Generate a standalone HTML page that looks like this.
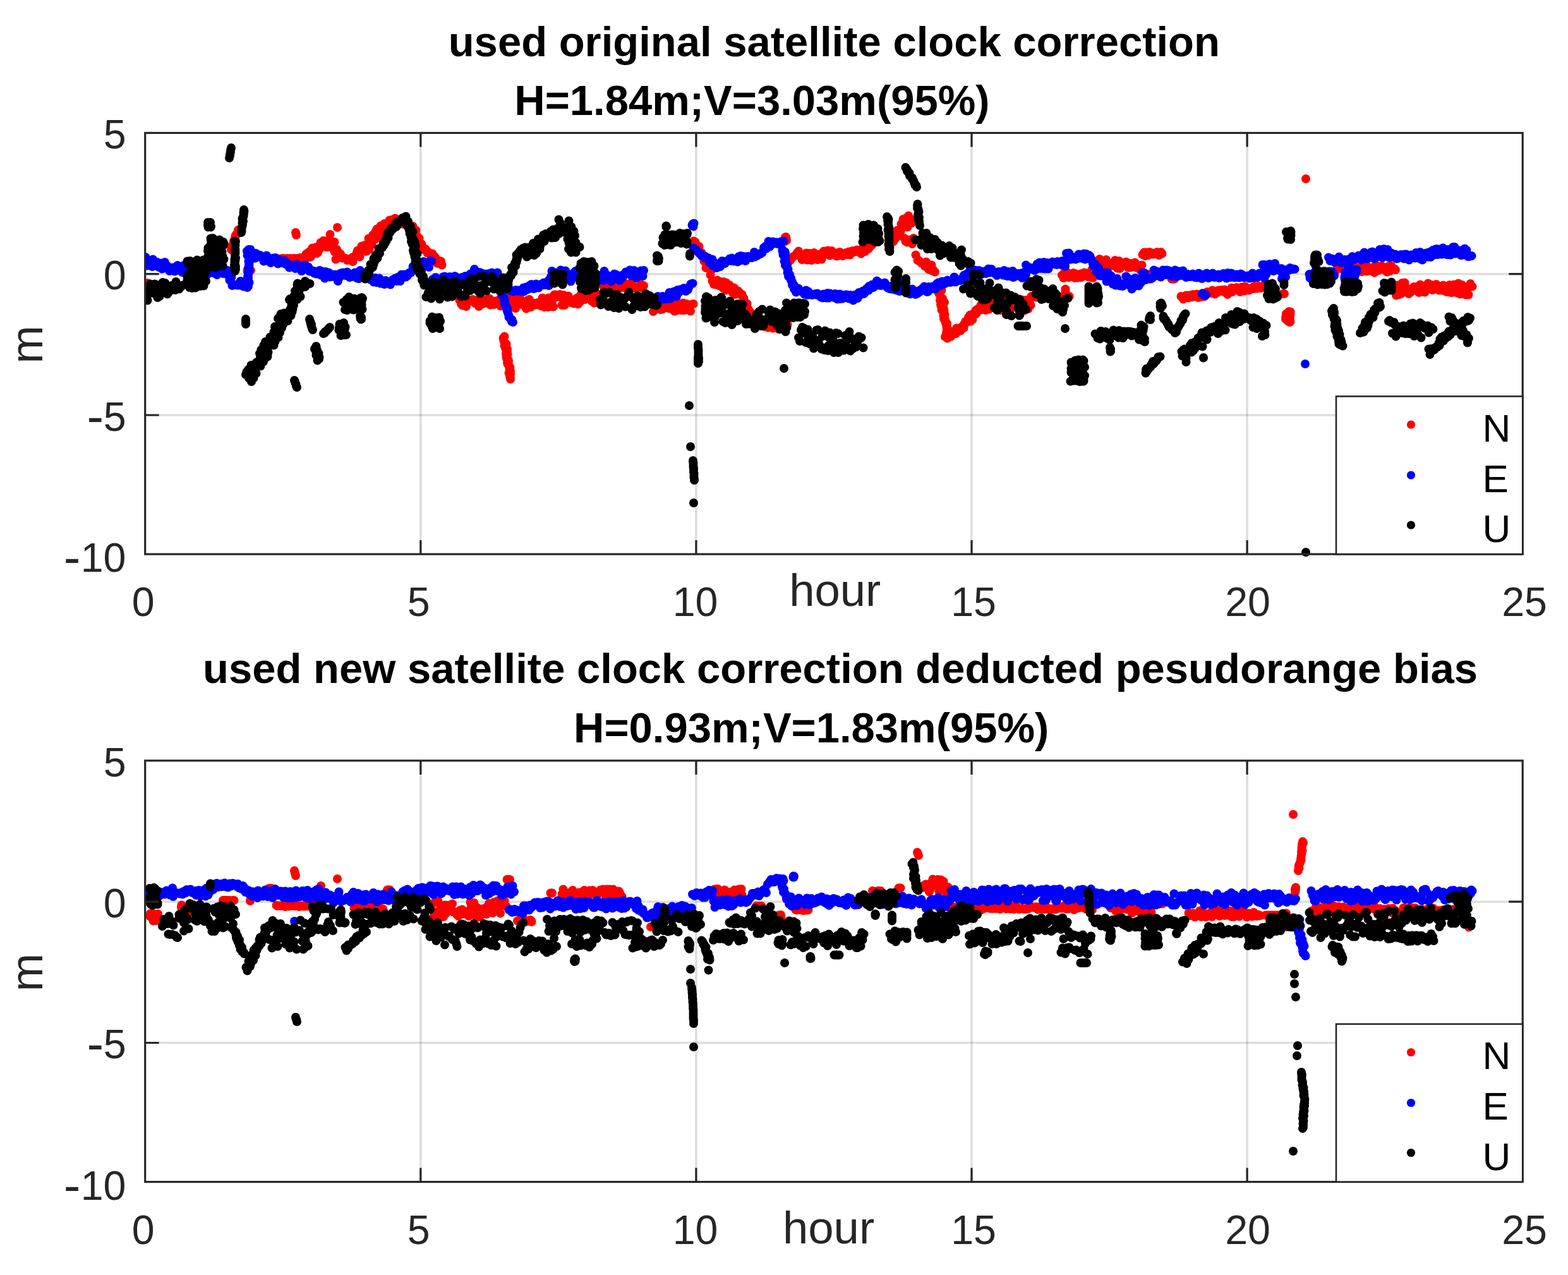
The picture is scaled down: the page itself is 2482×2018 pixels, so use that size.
<!DOCTYPE html>
<html><head><meta charset="utf-8"><title>satellite clock correction comparison</title>
<style>
html,body{margin:0;padding:0;background:#fff;}
svg{display:block;}
text{font-family:"Liberation Sans",Arial,Helvetica,sans-serif;fill:#262626;}
.tk{font-size:64.5px;}
.mn{font-size:80px;}
.lb{font-size:72.5px;}
.lg{font-size:62px;fill:#000;}
.tt{font-size:67px;font-weight:bold;fill:#000;}
</style></head><body>
<svg width="2482" height="2018" viewBox="0 0 2482 2018">
<rect width="2482" height="2018" fill="#fff"/>
<path d="M665.8 210.4V877.1M1101.9 210.4V877.1M1538.0 210.4V877.1M1974.1 210.4V877.1" stroke="#000" stroke-opacity="0.13" stroke-width="3.6" fill="none"/>
<path d="M229.7 433.7H2410.2M229.7 657.0H2410.2" stroke="#000" stroke-opacity="0.13" stroke-width="3.6" fill="none"/>
<g clip-path="url(#c0)">
<path d="M0 0m233.5 448h0m0 3.5h0m0-1.5h0m0 0h0m0 3h0m71.5-10.5h0m0 0h0m0 0h0m0 0h0m33-18h0m2 0h0m-3.5-0.5h0m0 3h0m6.5-1h0m-10 1h0m8.5-0.5h0m-6.5-2h0m2 2h0m2-0.5h0m27-31h0m1.5-1.5h0m-0.5-2.5h0m0.5-2h0m1.5-1.5h0m0.5-2h0m1.5-1.5h0m-1-2.5h0m2-1.5h0m-0.5-2h0m0.5-2h0m0.5-2.5h0m1-2h0m2-1h0m0.5-2.5h0m0.5-2h0m0.5-2h0m14.5 65.5h0m1.5 0h0m0.5 1.5h0m-1.5-1h0m3-1h0m-3.5-1.5h0m5.5 0.5h0m-5 0h0m2 1h0m25-20h0m2.5 1h0m1.5 0h0m2 1h0m1 0h0m2.5-1h0m2 0h0m2 0.5h0m2-0.5h0m2-0.5h0m2 0h0m3 1h0m1.5-1h0m2 0.5h0m2-1h0m2.5 0h0m1.5 1h0m2 0.5h0m2-1.5h0m2 1.5h0m2-1.5h0m1.5 1h0m3 1h0m1-2h0m2 0h0m2 1.5h0m2-1.5h0m2 1h0m2-2h0m2.5 0h0m1.5 1.5h0m2.5-2h0m2 0.5h0m1.5 0h0m3-1h0m0.5-0.5h0m3 0.5h0m1-0.5h0m-24-38.5h0m0.5 2h0m0.5 2h0m15.5 30h0m2.5-1.5h0m2.5-2h0m2-1h0m1-1.5h0m2-3.5h0m2 7.5h0m3.5-8.5h0m1.5 9.5h0m1.5-1h0m2.5-5h0m2-11h0m1 5h0m3.5-8h0m1.5 1h0m1.5 2h0m1.5 7h0m3 0h0m2-12h0m1-8h0m2 11h0m2.5 10h0m2.5-9h0m0 15.5h0m2 12h0m1.5-16h0m1.5 6.5h0m2-1h0m2.5 2h0m2.5 6.5h0m1-1.5h0m2 1.5h0m3 0.5h0m2 3h0m2.5-1h0m1.5-1h0m2 2h0m2-4.5h0m1 6.5h0m2.5-8h0m2-2h0m2-4.5h0m1-3h0m3.5 10h0m1.5-9.5h0m1.5-7.5h0m2.5 8.5h0m2.5-10h0m1.5 10h0m1.5-0.5h0m3-20h0m1 17.5h0m3-12.5h0m1 4.5h0m2-15.5h0m3 7.5h0m1-12.5h0m2-4h0m2.5 10h0m1.5 4h0m2-19h0m2 9h0m3-1.5h0m1-11h0m3 9.5h0m2-1h0m2-12h0m1-2h0m1.5 4.5h0m3 0h0m2.5-6.5h0m2-1h0m-91.5 14.5h0m103.5-5.5h0m2-3.5h0m2.5 1h0m1.5 3.5h0m3-1.5h0m1.5 4.5h0m1.5 3h0m2.5-2h0m1.5-1.5h0m2 6h0m3 0.5h0m1.5 9h0m2 3.5h0m1.5 0h0m3 8.5h0m1 1h0m3 6h0m1.5 3h0m1.5-1.5h0m3 6.5h0m1.5-1.5h0m2 2h0m3 2.5h0m1.5-2h0m2 8.5h0m1.5-4h0m1 1.5h0m2.5 9h0m3-4h0m1 5h0m2.5-4h0m1.5 6h0m28 55.5h0m2.5 6h0m2 2.5h0m2-2h0m1-4h0m3 7.5h0m2-7.5h0m1.5-2.5h0m2.5 1.5h0m1.5-1h0m2.5-1.5h0m2 0.5h0m2 5.5h0m1.5-2.5h0m3-3h0m1.5 10.5h0m2-2h0m2.5-1.5h0m1-3.5h0m2-4h0m1.5 6h0m3.5-2.5h0m1 2h0m3-7h0m1.5 10h0m1.5-7h0m3 1h0m1.5 5.5h0m1.5-5.5h0m3 2h0m1.5 1.5h0m2-5.5h0m2.5 10h0m1.5-13.5h0m2.5 7h0m2 4h0m1.5-1.5h0m2.5-10h0m1 11h0m2-6h0m3 9h0m1-14.5h0m3 4h0m2 10h0m1.5 4h0m2.5-8.5h0m1-4h0m3-4h0m2.5 6h0m1 4.5h0m2-4.5h0m2 4.5h0m3 6.5h0m1.5-13h0m2 4.5h0m1.5-6h0m2.5 12h0m0.5-4.5h0m2.5 1h0m3-2.5h0m1.5 2.5h0m2.5-1h0m1-2.5h0m3 0.5h0m1.5 4.5h0m2.5-12.5h0m2 4h0m1 10.5h0m2-9.5h0m3.5 9.5h0m1.5-14.5h0m2 13.5h0m2-4h0m2-6h0m1.5 10.5h0m1.5-19h0m2 0h0m2 1.5h0m3 2h0m2-4h0m1 3.5h0m2 13.5h0m2.5-16h0m1.5 16h0m3-9.5h0m2 3h0m1-8h0m3 6.5h0m1.5 4h0m2-1.5h0m2.5 3h0m1-3h0m2-4.5h0m3-2h0m0.5 10.5h0m3.5-4h0m1-11.5h0m2.5-0.5h0m2 0h0m2 8.5h0m2.5-5h0m0.5 3.5h0m3-6h0m2.5 6h0m2 4h0m1 0h0m3 3h0m1-5h0m2-10.5h0m2.5 9.5h0m2.5-3.5h0m1 5.5h0m-151 57h0m-2 2.5h0m0.5 2h0m0.5 2h0m1 2h0m0 2h0m3 1.5h0m-3 3h0m3 1.5h0m-1.5 2.5h0m3 1h0m-0.5 2.5h0m0.5 2h0m-2 2.5h0m2.5 1.5h0m-2 2.5h0m0 2h0m0.5 2h0m2.5 2h0m0.5 2h0m-2 2.5h0m0.5 2h0m2 2h0m0.5 2h0m1.5 1.5h0m-1 2.5h0m0.5 2h0m1 1.5h0m-2.5 3h0m2.5 1.5h0m-0.5 2h0m-0.5 2h0m1 2h0m0 2h0m145.5-152h0m1 4h0m3-2.5h0m1 1h0m3.5 1h0m0.5 4h0m3 0h0m2.5-0.5h0m0.5-3h0m2 1h0m3-5h0m1 1h0m2.5 6h0m2.5-0.5h0m1.5 0.5h0m2.5-6.5h0m0.5 7h0m3-4h0m1.5 3h0m2.5-4h0m2-1h0m2 3.5h0m2-4h0m3-0.5h0m1.5 6h0m1 1h0m2 0.5h0m2 0h0m2-1h0m3-1.5h0m1-0.5h0m2.5-2.5h0m2 5.5h0m2-4h0m14 29.5h0m1 11.5h0m2.5-11.5h0m2 1h0m3 3.5h0m1-4.5h0m3 8.5h0m2-5h0m1 4.5h0m2.5-2h0m1-2.5h0m2.5 0.5h0m3-4h0m1 6.5h0m3 0.5h0m2-9h0m2 10h0m2 3h0m2-0.5h0m1.5-12h0m1.5-1h0m3 8.5h0m2-6h0m1 9.5h0m3-11.5h0m2 11.5h0m1-4h0m2.5-6h0m2 7h0m2.5-4h0m1.5 8.5h0m2.5-11h0m2-0.5h0m0.5-99.5h0m2.5 1.5h0m0.5 7.5h0m3-1.5h0m2.5 1h0m1 7.5h0m3 2.5h0m1.5 4h0m2.5 9.5h0m1-5.5h0m2 16h0m2.5-2h0m2 1.5h0m2.5 11.5h0m1-6.5h0m2 16h0m2.5 5.5h0m3 0.5h0m2 0h0m0.5-7h0m2.5 8.5h0m2.5-6h0m1 1h0m3 9h0m1-10h0m3 13.5h0m1-12h0m2 6.5h0m3-3h0m1 7h0m3-2.5h0m1.5 8h0m2-8h0m1.5 10.5h0m1.5-7h0m3.5 1.5h0m1.5 4.5h0m1.5-1h0m3 2h0m1.5 4.5h0m1.5 1.5h0m2.5 13h0m2.5-4.5h0m1.5 8h0m1.5 2.5h0m2 3h0m2.5 7h0m2.5 4h0m2 2h0m1.5 1h0m2.5 2h0m1-1.5h0m2 4h0m2.5-5.5h0m1.5-2h0m2 3.5h0m3 8.5h0m1.5 0h0m1.5-5h0m2.5 6.5h0m1.5-6h0m3-2.5h0m1.5 8.5h0m1.5 1h0m2.5-10.5h0m1.5 7.5h0m3 2h0m2 2.5h0m1.5-7.5h0m2 1.5h0m1.5 2h0m3 4h0m1-8.5h0m3.5 5h0m1.5-4h0m-3.5-133.5h0m2 0.5h0m-0.5-3h0m-1.5-2h0m1.5 5.5h0m-0.5-6h0m0 6h0m-1 1h0m0-2h0m0 1.5h0m0 38.5h0m1.5-1.5h0m1-2h0m1.5-2h0m2-1h0m2-1.5h0m0.5-2.5h0m2-1h0m1.5-2h0m2-1h0m2-1h0m1.5-1.5h0m1-2.5h0m2.5-0.5h0m0-2.5h0m2.5 6.5h0m2 0h0m1 7h0m3-0.5h0m1-8h0m3-2h0m1.5 11h0m1.5-6.5h0m2-4h0m3 11h0m1-7.5h0m3-4.5h0m1.5 9h0m2.5-1.5h0m1.5 3.5h0m2-6h0m2.5-3h0m2 8.5h0m1-4.5h0m2.5-8.5h0m2 1.5h0m2.5-1h0m2-1.5h0m1.5 0.5h0m1.5 7.5h0m3-7.5h0m2 4.5h0m1-1h0m3 1h0m2 4h0m1.5-5.5h0m2 2h0m1.5-3h0m2 5.5h0m2.5 0.5h0m2-2.5h0m2.5 0h0m1-2.5h0m2 3h0m2-4.5h0m2 5h0m3-4h0m1-2.5h0m2 2h0m3-1h0m2-2.5h0m1.5 3h0m2.5-3h0m2.5 6h0m1.5-5h0m2-1h0m2 2.5h0m1 0h0m2.5-4h0m2.5 0h0m1.5-2h0m1.5-2h0m3-2.5h0m2-2.5h0m2-2h0m27.5-16h0m2 15.5h0m2.5-4h0m2-2.5h0m2-11.5h0m1 5h0m3-3.5h0m1 0.5h0m1-12h0m1.5 6.5h0m1.5-14h0m3-1h0m-1 31h0m2 5h0m1-31.5h0m2 9h0m-0.5 24h0m2-42h0m2 38h0m2.5-26h0m1.5 32.5h0m2-9h0m0.5-29h0m3 55.5h0m3 8.5h0m1-0.5h0m2 2h0m3 3h0m2 0h0m1 1.5h0m2.5 3.5h0m2-7h0m2 8h0m2 4h0m2 0h0m2.5-7h0m1 9h0m2-1h0m2.5 3h0m6 17h0m-2.5 3h0m4.5 1h0m-5 3.5h0m6 0.5h0m-3.5 3h0m5 1h0m-5 3.5h0m1 2h0m1.5 2h0m0.5 2h0m1.5 2h0m2 1.5h0m-4 3h0m4 1.5h0m3 1.5h0m-6 3.5h0m0.5 2h0m1.5 2h0m2.5 1.5h0m-3 3h0m4 1h0m-1.5 2.5h0m2 2h0m0.5 2h0m-2 2h0m1.5 2h0m-1 2.5h0m2 1.5h0m0.5 2.5h0m0 2h0m2.5 1.5h0m-1 2.5h0m0.5 2h0m0 2h0m1.5 2h0m0 2h0m-1.5 2h0m-0.5 2.5h0m0 2h0m3 1.5h0m-5 2.5h0m3.5 2.5h0m1.5-1.5h0m0-3.5h0m4.5 2h0m1-2h0m1.5-1.5h0m0.5-3h0m4.5 2h0m0.5-2.5h0m0-3.5h0m0.5-2.5h0m6.5 4h0m-0.5-4h0m1.5-1.5h0m4 1h0m-0.5-4h0m1-2h0m2-1h0m0-3h0m2.5-0.5h0m3 0h0m3 0h0m-3.5-6.5h0m6.5 3.5h0m-4-7h0m3-0.5h0m2-1h0m3.5 0.5h0m1.5-1.5h0m-1-4.5h0m1.5-1.5h0m2-1h0m4.5 1.5h0m-3-1.5h0m3-6h0m1-1h0m2.5-4.5h0m1.5 3.5h0m3 10h0m1.5-5h0m1.5 0.5h0m2 3h0m2.5-13h0m1-0.5h0m3.5 8.5h0m1-0.5h0m2 3.5h0m3 3h0m1.5-6h0m2-2.5h0m1.5 9h0m2.5-10h0m2.5 1.5h0m0.5-7.5h0m3 4.5h0m1.5-0.5h0m2.5 0.5h0m2.5-4h0m1.5 12.5h0m2.5-0.5h0m1-0.5h0m2-0.5h0m3-6h0m1.5-2h0m2.5 0.5h0m1 8h0m2.5-10.5h0m1.5-2h0m2 15h0m2 2h0m2.5-16.5h0m1.5 11h0m2 3h0m2-13.5h0m2 7.5h0m1-14h0m3 0h0m0.5 1h0m3.5-1h0m1 1.5h0m3-1.5h0m1 0.5h0m2 0h0m3 0h0m2 0.5h0m2 0h0m1.5 0h0m2-0.5h0m2 0h0m2.5 0.5h0m1.5-0.5h0m2.5 0h0m1.5 0h0m2.5 0h0m1 0h0m3 0h0m1-0.5h0m2.5 0.5h0m2.5 0h0m0.5 0h0m3.5-0.5h0m1.5 0h0m1.5 0h0m2 0h0m2.5 0h0m1.5 0h0m-6-11.5h0m0 0.5h0m0 0h0m0 1.5h0m0 3h0m0-3.5h0m0 4h0m-5.5-27.5h0m2.5 4.5h0m1.5-9h0m1.5 1h0m2.5-1h0m2.5 8h0m1.5-3.5h0m2-1.5h0m2 1.5h0m2-3.5h0m2.5 8h0m2-6.5h0m2 2.5h0m1 3.5h0m2.5-2.5h0m2.5 2h0m0.5-6h0m3 4h0m1.5-5.5h0m3 1h0m2 0.5h0m2 5.5h0m2-1h0m1 1.5h0m3.5 1h0m-2-12.5h0m3.5 2h0m2-2h0m1.5-4.5h0m2.5 1h0m2 2h0m1-16h0m2 9.5h0m2.5-4.5h0m1.5 6.5h0m2 3h0m2.5-13.5h0m2 10.5h0m2.5-2.5h0m2-2h0m1.5 3.5h0m1.5-2.5h0m2-0.5h0m2.5-5.5h0m2 7.5h0m1.5 5h0m3-11.5h0m1 12h0m2.5-9h0m1.5 0h0m3 0.5h0m2 0h0m1-2h0m3 9h0m2-4.5h0m1 4.5h0m1.5-6.5h0m3 5.5h0m2-5h0m1.5-2h0m3.5 8.5h0m1-1.5h0m2.5 3h0m1.5 2h0m2.5-8h0m1-16.5h0m2.5-3.5h0m1.5 5.5h0m1-5.5h0m2 2h0m2 2.5h0m2-5h0m3 1h0m2 2h0m1 0.5h0m2.5-1h0m2 0h0m1.5-2.5h0m3 5h0m1.5-2.5h0m1.5-2.5h0m2 2.5h0m-21.5 33h0m-0.5 0h0m1.5 0h0m38 7h0m1 0h0m1 0h0m-4.5 0h0m15 27.5h0m2 0.5h0m1.5 4h0m2-3h0m2.5-3h0m2 0h0m1.5 4h0m2.5-3h0m1.5-1.5h0m2 3h0m1.5-4h0m2.5 1h0m1 2h0m2.5-3.5h0m2.5 5.5h0m2.5-1.5h0m1 0.5h0m3-6h0m2 5.5h0m1.5-0.5h0m3-4h0m1-3h0m2.5 0.5h0m1.5 1h0m2.5 0.5h0m1.5-4.5h0m2 2h0m2 4h0m2-1.5h0m2-1h0m1.5-3.5h0m3 0h0m1.5-0.5h0m1.5 1h0m1.5 1.5h0m2.5-3h0m2.5 3.5h0m2 4h0m2-2.5h0m2-2h0m2.5-6h0m1 6.5h0m2.5-4h0m2.5-1h0m2-2h0m2 2h0m2 2.5h0m1.5 2.5h0m2.5-7.5h0m2.5 4.5h0m1.5 1.5h0m1.5-7h0m2.5 5.5h0m1.5-2h0m2 2.5h0m2.5-2h0m1.5-1.5h0m2.5 1h0m2-4h0m2 3.5h0m2 0h0m1.5-1.5h0m1.5-2h0m3 3h0m2-2.5h0m2 0h0m1.5-2h0m2 0.5h0m2.5 2h0m25.5 11h0m1.5 0h0m0.5 0h0m0 0h0m-2.5 0h0m0 0h0m5.5 31.5h0m6 9h0m0.5-12h0m-2.5 7h0m-3.5 0h0m4.5 0.5h0m1.5 8h0m-3-14h0m-4.5 7h0m6.5 8h0m-1-17h0m1.5 10h0m-7 2h0m7.5-7.5h0m-3.5 6h0m0.5-5h0m-0.5 10h0m0-12.5h0m28-213h0m47.5 145.5h0m2-3.5h0m3-5h0m2.5 4.5h0m1.5-5.5h0m1 2.5h0m2.5 4.5h0m2.5 4h0m1-5.5h0m3-0.5h0m1.5-0.5h0m2-1.5h0m2-1.5h0m1.5 4h0m2 3.5h0m3 2h0m1-7h0m3 5h0m1 0.5h0m2.5-3.5h0m2.5 5h0m1.5-9h0m1.5 3h0m2-3.5h0m3 9h0m1-8h0m2 5.5h0m3 1.5h0m2 0h0m0.5-4.5h0m3.5 7.5h0m2-12h0m1.5 3.5h0m3 5h0m1-3.5h0m2.5-0.5h0m1.5-3h0m1.5 1.5h0m3.5 5.5h0m1.5-2.5h0m2 5h0m1.5-8.5h0m2 2.5h0m1 4.5h0m2.5-8h0m2.5 3.5h0m2.5 1h0m1.5 1.5h0m1 40.5h0m2-16h0m1.5 10h0m2 4.5h0m3-1.5h0m1-16.5h0m3 4h0m1-4.5h0m2.5 8h0m2.5 7h0m1.5 2.5h0m1.5-1.5h0m2-1.5h0m2-5.5h0m2.5-2.5h0m2.5 5.5h0m1.5-5.5h0m2 2h0m2 7h0m2-12.5h0m2 8h0m1.5-5.5h0m3 9.5h0m1 0h0m2.5-7.5h0m2.5-6.5h0m1.5 8h0m2-1h0m2-4.5h0m1.5 8h0m2-3.5h0m2.5 2h0m1.5-7.5h0m3 6h0m1.5 3.5h0m2.5-5h0m2 5h0m2-8h0m1.5 5.5h0m2.5 4h0m1.5 1h0m2-6.5h0m2.5-4.5h0m2 12h0m2 0h0m1-2h0m2-10.5h0m2 8.5h0m3 4.5h0m2-15h0m1.5 3h0m1.5 14h0m3-14.5h0m2 6.5h0m2 1h0m1.5 8h0m1.5-7.5h0m3 7.5h0m2-12.5h0m1-5h0m3 4.5h0" stroke="#ff0000" stroke-width="14.0" stroke-linecap="round" fill="none"/>
<path d="M0 0m229 417.5h0m1.5-10.5h0m2.5 13.5h0m2.5-6h0m1.5 5.5h0m1.5-5h0m2.5 7h0m1-11.5h0m3.5 9.5h0m1.5-2h0m2-3h0m2.5 8h0m1-4h0m3-2.5h0m1 9h0m2-1.5h0m2.5-9h0m1.5 9.5h0m2-4h0m3 3h0m1 5.5h0m2-2.5h0m2.5-3h0m1.5 3h0m2 3h0m2.5-7.5h0m2-2h0m2.5 8h0m1-2h0m3 0.5h0m1 4.5h0m2.5-11h0m2 5.5h0m2-1.5h0m2.5-0.5h0m1.5 7.5h0m2.5-9h0m2 2.5h0m1.5 9h0m1.5-1.5h0m3-0.5h0m1 1h0m2.5 0h0m2.5 2h0m1 0h0m2-9h0m2.5 7.5h0m2.5-7h0m1 0h0m1-1.5h0m2.5 10h0m2.5-12h0m1.5 4h0m2.5 4.5h0m0.5 0.5h0m2.5-2h0m2 3h0m2.5-1.5h0m1.5 4h0m3-2.5h0m2-4h0m2-4h0m0.5 2h0m2.5 6.5h0m2-2h0m2-1h0m2.5-2h0m1.5 8.5h0m2 7h0m3-5h0m1 13.5h0m2-1.5h0m2 0h0m2 0.5h0m2.5 0.5h0m1.5 0h0m3-6.5h0m1.5 7h0m2-2h0m1.5 3.5h0m3-1h0m1 0.5h0m3.5-8h0m1.5 2h0m-3 8h0m1.5-2h0m-1-2h0m-0.5-2h0m1.5-2h0m-1-2.5h0m0.5-2h0m0.5-2h0m-1-2h0m1-2h0m0-2h0m0-2h0m0.5-2h0m1-2h0m0-2.5h0m-1.5-2h0m1-2h0m0.5-2h0m-0.5-2h0m0.5-2h0m-1-2.5h0m0.5-2h0m1-2h0m0-2h0m-0.5-2h0m1-2h0m-0.5-2.5h0m0-2h0m2-2h0m-0.5-2h0m-3 0h0m-1 10h0m0.5-3h0m2 0h0m-3.5 2h0m2.5-7.5h0m-3 1h0m1.5-1h0m0 2.5h0m-0.5 5h0m1.5 0.5h0m2-5h0m3 4.5h0m2 5h0m1-6h0m2.5 5.5h0m1-7.5h0m3.5 2h0m1.5 3.5h0m2-2.5h0m1.5 3h0m1.5 1.5h0m2.5 5h0m3-2h0m1.5-7h0m2.5 8.5h0m2-3h0m2 6h0m2-3h0m2-4.5h0m2 3h0m1.5-3.5h0m2 5h0m2 4.5h0m1.5-6.5h0m2.5 5h0m1.5-2.5h0m3 2h0m2-3h0m1.5 5.5h0m2 1h0m2.5-1h0m1.5 5.5h0m2-1h0m1.5-1.5h0m2.5 0.5h0m1-2h0m2.5 5.5h0m2.5-6.5h0m2.5 4.5h0m2 0.5h0m2 2.5h0m1 3h0m2-4h0m2.5-5h0m1.5-0.5h0m2 4.5h0m2.5-1.5h0m2 7h0m2.5 0h0m1-1.5h0m3 1h0m1 3.5h0m3 1h0m1-4h0m3 2h0m1.5-3.5h0m2 7.5h0m2-6h0m2.5 1h0m1.5 10h0m1.5-10.5h0m3 4.5h0m2-3h0m1.5 7h0m1.5-4h0m2.5 0h0m2.5 1h0m0 2.5h0m2-3.5h0m3 3h0m1.5 7.5h0m2.5-6h0m1.5-6.5h0m2 3h0m2-4h0m1 3h0m3 1.5h0m2.5-5.5h0m2 5h0m2 3.5h0m2-4h0m1.5 3h0m2-0.5h0m2.5-6h0m1 0h0m3 9h0m2.5 0.5h0m0.5-3.5h0m1.5-9.5h0m2.5 5h0m1.5 3.5h0m2.5-3.5h0m1.5 5h0m2-0.5h0m2 3.5h0m2.5-1.5h0m1.5 3h0m2.5-1h0m1.5 3h0m1.5 2h0m2.5-6.5h0m2 7h0m2.5-4.5h0m2-2h0m1.5 8h0m2 0h0m3-1.5h0m1.5 3h0m2-6h0m1.5 4h0m1.5-1h0m3 1.5h0m1.5 2h0m2-4h0m2-4h0m2 0h0m1.5-2h0m2.5 4.5h0m1.5-6h0m2.5-1h0m1.5 7h0m2-10.5h0m2 3h0m2.5-3h0m2.5 4h0m2.5-2h0m1.5-3.5h0m1.5-1.5h0m2.5 0h0m2-3h0m1-6.5h0m2-1.5h0m1-1.5h0m2 3h0m2.5-1h0m1.5 0.5h0m3-3.5h0m1 5.5h0m2.5-5h0m1.5-4.5h0m2.5 2h0m1.5 5h0m3-1.5h0m1.5 3.5h0m2-10.5h0m2 0.5h0m2 29h0m0.5 1h0m3-1h0m1-3h0m2.5 5.5h0m2 0h0m1.5 2.5h0m3-2.5h0m2-4h0m1-2.5h0m2.5-0.5h0m1.5 7h0m3-3.5h0m2 6.5h0m1.5-9.5h0m1 3h0m2.5-2h0m3 4.5h0m1.5-6.5h0m2.5 6.5h0m2-0.5h0m1.5-3h0m2.5 4h0m1.5-4.5h0m1.5-0.5h0m2 3h0m3-5h0m1.5 8h0m1.5-1h0m2.5-1h0m1.5 4.5h0m1-14h0m2.5 2.5h0m2.5-5.5h0m1.5-4.5h0m2.5 4h0m2 1h0m1 1.5h0m3-1.5h0m0.5 5h0m2.5-2.5h0m0.5-1h0m2.5 4h0m2 0.5h0m3-3.5h0m2 1h0m2-1.5h0m1.5 4.5h0m2.5-6h0m2 4.5h0m2-0.5h0m1 0.5h0m2.5 1h0m1.5-5.5h0m2.5 18.5h0m0 2h0m1.5 1.5h0m0 2.5h0m1 1.5h0m0.5 2h0m0.5 2h0m0 2h0m1 2h0m0 2h0m2 1.5h0m1 2h0m0.5 2h0m1 2h0m-0.5 2h0m0.5 2h0m0 2.5h0m1.5 2h0m0.5 2h0m1.5 2h0m0.5 2h0m-0.5 2h0m1 2h0m0.5 2h0m1 2.5h0m0.5 1.5h0m0 2.5h0m1.5 1.5h0m1.5 1.5h0m2 1h0m-0.5 3h0m2 1h0m-7.5-52h0m2.5 0h0m2 2.5h0m1.5-0.5h0m2 1.5h0m2.5-0.5h0m1.5-2h0m3 1.5h0m1-1h0m2.5 0h0m1 1h0m3-2.5h0m2.5 3.5h0m-1-6h0m2.5 3h0m1.5-4h0m3 3.5h0m2.5-6h0m0.5 1h0m2.5-3h0m2.5 6.5h0m1 0.5h0m1.5-0.5h0m2.5-7h0m3.5 3.5h0m0.5 2.5h0m3-3h0m1.5-3h0m2.5-0.5h0m1-1.5h0m2.5 3.5h0m2.5-2.5h0m2-3.5h0m1.5 7h0m0-9h0m3-5h0m1.5-9h0m2 5h0m1 8h0m2.5-10.5h0m2.5 2.5h0m1.5 3h0m2.5 6h0m2-15.5h0m1 15h0m2-8h0m2.5 5h0m2-11h0m2 4.5h0m2 9.5h0m1.5-7h0m3 10h0m1.5-10.5h0m1 3h0m2.5-6.5h0m2.5-2.5h0m1.5 1.5h0m3 4.5h0m1 6h0m2.5-8.5h0m2.5 1.5h0m1.5-6.5h0m1.5 14h0m3-10.5h0m1.5 13h0m2.5-8.5h0m2 5.5h0m0.5-3h0m3-7.5h0m2.5 10h0m1.5-8.5h0m2 9h0m2 3.5h0m2.5-0.5h0m1.5-8h0m2.5 1h0m2 2h0m2 5h0m1-15h0m2 9.5h0m2.5-3h0m2 1.5h0m1.5 6h0m3 2.5h0m2-2h0m1-2.5h0m2-7.5h0m2.5 1h0m2.5 7.5h0m2-5.5h0m1.5 7.5h0m2.5-8h0m2 3.5h0m1.5-3h0m2-2h0m1.5-4h0m2.5 0h0m1.5-0.5h0m2.5-2.5h0m2.5 9h0m1-1h0m3-7.5h0m2 9h0m2 3h0m1.5-8h0m2.5 5h0m2-1h0m1-7.5h0m3 8.5h0m1.5-9h0m12.5 48h0m1.5-0.5h0m1.5 3h0m2.5-3.5h0m2.5-3h0m2-3h0m1 1h0m2.5 3.5h0m2.5 0h0m1.5-4.5h0m2 4.5h0m1.5-3h0m3 2.5h0m1-4h0m3-6h0m2 9.5h0m1.5-5h0m2-2h0m1.5-4h0m3 6h0m1.5 1.5h0m1.5-10h0m2 4h0m3-5h0m2 0.5h0m1 0.5h0m2-3h0m3 5h0m1.5-4h0m2 1.5h0m1.5-4h0m3-5h0m2.5-0.5h0m0.5-0.5h0m0-94h0m-0.5 1.5h0m2.5-2.5h0m-1 0.5h0m-2 2h0m2.5-1.5h0m-0.5 4h0m0-3.5h0m-1.5 2.5h0m1.5 35h0m2.5 1.5h0m1 0.5h0m2.5 3h0m2 2h0m1.5 1.5h0m2 1h0m1.5 3h0m3 1.5h0m1.5 1.5h0m1-2.5h0m3 3h0m2-0.5h0m2 8h0m1-4h0m3.5-1.5h0m1 2.5h0m0.5 8h0m1.5-1.5h0m2.5-1h0m1.5 5.5h0m3.5-7h0m1.5 0h0m0.5 5h0m3-9h0m1.5 0.5h0m3 3.5h0m2-3h0m1.5-1h0m3-0.5h0m1-3h0m2.5 3.5h0m1-4.5h0m3.5 5h0m0.5-2h0m2.5 2h0m2.5 1h0m2-8.5h0m2 6.5h0m1-7.5h0m3 5h0m1.5-4h0m3 7h0m1.5-6.5h0m1-0.5h0m2.5 0h0m1.5 1.5h0m2 0h0m1.5 0.5h0m4-9h0m1 7.5h0m2.5-4h0m1.5 2h0m2-2.5h0m2.5 0h0m2.5-2.5h0m0.5 0.5h0m2.5-8h0m2.5-2h0m1.5 3.5h0m2.5-6.5h0m1-5h0m2 8.5h0m2-5.5h0m3-2.5h0m2 3h0m0.5-1.5h0m3-0.5h0m2 2.5h0m2-2.5h0m2 0h0m2.5-1.5h0m1.5 0.5h0m1.5-1h0m-2 13.5h0m0 2.5h0m4 1h0m0.5 2h0m-3.5 3h0m2.5 1.5h0m1.5 1.5h0m0 2.5h0m0 2h0m-2 2.5h0m2.5 1.5h0m-1 2h0m0 2h0m3 1.5h0m-0.5 2.5h0m0.5 1.5h0m1.5 2h0m-0.5 2h0m-0.5 2.5h0m1.5 2h0m2 1.5h0m-2 3h0m3 1h0m1 2h0m0 2.5h0m0.5 1.5h0m1.5 1.5h0m0.5 2h0m-0.5 3h0m3 0.5h0m1 1.5h0m-0.5 2.5h0m1.5 2h0m2.5 0.5h0m2 1h0m-6.5-1.5h0m3 5h0m2-5.5h0m2-0.5h0m2.5 3.5h0m1.5 1h0m2 0.5h0m2 0.5h0m1 3.5h0m3-6h0m1.5 7.5h0m2-5.5h0m2.5 3.5h0m1.5 1.5h0m2 0.5h0m3-1h0m2-1h0m1.5 1.5h0m2-2h0m2 2h0m2 2.5h0m1.5 1.5h0m2.5 1h0m1.5-6h0m2.5 0.5h0m2 5.5h0m2-7.5h0m2 7.5h0m2-7h0m2.5 1.5h0m1.5 4h0m2.5 1h0m1.5-6h0m2 0.5h0m1.5 8h0m2.5-7h0m1.5-1h0m1.5 7.5h0m3-0.5h0m1.5-2h0m3-4h0m1.5 0h0m2.5 2.5h0m1 3.5h0m2.5-5.5h0m1.5 3h0m3 5.5h0m2-8.5h0m1 1.5h0m2.5 1h0m1.5 2.5h0m2-9h0m2 4h0m2-4.5h0m2.5-2h0m1.5 4.5h0m2.5-3h0m1.5-5h0m3.5 2.5h0m0.5-6.5h0m3-0.5h0m2-2h0m2 4.5h0m1-4.5h0m3 1.5h0m1.5-7.5h0m2.5 2h0m2 4.5h0m1.5 1h0m2.5-0.5h0m1.5-2.5h0m2.5-1.5h0m2 5.5h0m1.5 1.5h0m1.5 1.5h0m2.5 1h0m2-4h0m1 4.5h0m2.5 0h0m2-4h0m2 5.5h0m2.5 0.5h0m1.5 0.5h0m2.5 1h0m2-3.5h0m1-3.5h0m2.5-7h0m1 7h0m2 0.5h0m2 4h0m3 2.5h0m1 2.5h0m2 2h0m2.5-2h0m1-6h0m3.5 7.5h0m1.5 1h0m1.5-2.5h0m2 1h0m2-4.5h0m2 1.5h0m3-4.5h0m1.5-0.5h0m2-3h0m2.5 3.5h0m2 5h0m1.5-0.5h0m1.5-7.5h0m2 1.5h0m2 2h0m2-4h0m2 3h0m2 1h0m2.5-8.5h0m2-1.5h0m1.5 0.5h0m2 4h0m2.5-6.5h0m2.5 4.5h0m1-4h0m2 2.5h0m3-5h0m1 0.5h0m2 1h0m2 2h0m3.5-3h0m1 0.5h0m1.5-6h0m2 8h0m2.5-4h0m1.5 0h0m3.5 0h0m0.5 1.5h0m2-3h0m3-4h0m0.5-1.5h0m1.5 4h0m2-5.5h0m2.5-1.5h0m2.5-3h0m2.5 6.5h0m1-7.5h0m1.5 10h0m3.5-11h0m0 0.5h0m3.5 1.5h0m0.5-0.5h0m2.5-1h0m2.5 5h0m2 1h0m3-3.5h0m0.5-1h0m3 3.5h0m2-4h0m2-3.5h0m1.5 6h0m2-5.5h0m1.5 0h0m3 4h0m1.5 2.5h0m2.5 0.5h0m1.5 3h0m2.5-6h0m2 3h0m1-2h0m2-1h0m2.5 5.5h0m1.5-7.5h0m3.5 8.5h0m1 0.5h0m2-7h0m2 6.5h0m2 1h0m3-8.5h0m1 10h0m2-3h0m1 1.5h0m3.5-4.5h0m2 0.5h0m1 0h0m2-1h0m2.5 7.5h0m3-9h0m1.5 8.5h0m1.5-5.5h0m0-14.5h0m2 4h0m2.5-0.5h0m2 3h0m2-0.5h0m1-1.5h0m2.5 2.5h0m1.5 1.5h0m2.5-1.5h0m1.5-8.5h0m3-2h0m1-0.5h0m2 9.5h0m3 0h0m2-10h0m2 10.5h0m2-3.5h0m1-6h0m2 9.5h0m2.5-8h0m2.5-2h0m1.5-1h0m2.5 3.5h0m1.5-1h0m2.5 2h0m1.5-5h0m2.5 3h0m1-1.5h0m2 3.5h0m2-6h0m2 6h0m2.5 2.5h0m1.5-8h0m0.5-12.5h0m2 3.5h0m2-4h0m2.5 10h0m1 0h0m2.5-2h0m1.5-1.5h0m3 3.5h0m2-4.5h0m2 3h0m1-6.5h0m3 0.5h0m2 1h0m1 5h0m2.5-7.5h0m1.5 9h0m2-8.5h0m2 6h0m2.5-4h0m1.5 1.5h0m2 4.5h0m2 6h0m1 4.5h0m3-2.5h0m2 12h0m2-7.5h0m1.5 2h0m2 12h0m1.5 0h0m2-1h0m2.5-3h0m1-0.5h0m3.5 13.5h0m2-14h0m1.5 11h0m2-6.5h0m1.5 0.5h0m3 13h0m1-6h0m3 8h0m1.5 0h0m1.5-10.5h0m2.5 10.5h0m2 1h0m2.5-3.5h0m1.5 4h0m2-4h0m2.5 1.5h0m1-13h0m3 11.5h0m1 0.5h0m2.5-7.5h0m2.5 15.5h0m1.5-2h0m2.5-8.5h0m1.5-7h0m1.5 2h0m2 2.5h0m2 8h0m2.5-8h0m0.5 3.5h0m1.5-8h0m1.5-8.5h0m3 0.5h0m2 11h0m1-3h0m3 0.5h0m1.5 1h0m2.5 0h0m2-1h0m1-1h0m2-12h0m2.5 1.5h0m2 0.5h0m1.5 7h0m2.5-5h0m2.5 7h0m1-6h0m2.5-5h0m1.5 6.5h0m2.5 1h0m2-7.5h0m2.5 4h0m1-3h0m3 8h0m2 1h0m1.5-6.5h0m2.5-2.5h0m0.5-1h0m2.5 10.5h0m2-2h0m2-6.5h0m2.5 6.5h0m2-3h0m1.5-4.5h0m3 8h0m2 2.5h0m1-1.5h0m1.5-3.5h0m1.5 3h0m2.5 1h0m2-3.5h0m2-1h0m2 3h0m1.5 2.5h0m2-3.5h0m1.5 4h0m2.5-7h0m2 4h0m3 4.5h0m1-6h0m2.5 2h0m2-0.5h0m2-4h0m2 7h0m1 0.5h0m3-2.5h0m1.5 0h0m2-5h0m3 6.5h0m2-3.5h0m1 1h0m3-2h0m1.5 5.5h0m1.5-2h0m2-2h0m3-3h0m1 2h0m3 1.5h0m1 4h0m2-8.5h0m2.5 0.5h0m2 6.5h0m1.5-6.5h0m3 4h0m2 3h0m1.5-2.5h0m2-2.5h0m1 4.5h0m2.5 0.5h0m2.5-6h0m2 1h0m1.5 3h0m2 2h0m3-1h0m2.5-2h0m1 1h0m2 3h0m2-4h0m2.5-4h0m1.5 7h0m1.5-4.5h0m3 1.5h0m1 3h0m2.5-2h0m1.5-5h0m2.5 2.5h0m1.5 0h0m3 1.5h0m1 3.5h0m3-6h0m-97.5 34h0m-4-3h0m2 0h0m0.5 2h0m3.5-0.5h0m-2 0.5h0m0-0.5h0m-0.5 1h0m-3-2.5h0m95-46h0m2 10h0m1-10h0m3 3.5h0m1.5 4h0m1.5-2h0m2-6.5h0m3 3h0m1.5-1.5h0m2 9.5h0m2-12h0m1.5 4.5h0m2.5 5.5h0m2.5-1.5h0m2 3.5h0m2-4h0m0.5 16h0m2.5-4.5h0m1.5 4.5h0m2-2.5h0m1.5-11.5h0m2 1.5h0m3.5-4.5h0m1.5 2.5h0m1.5 0h0m2.5-1h0m2 0.5h0m23 8h0m1 6h0m2 1.5h0m2 0.5h0m2 4h0m1.5-15.5h0m2.5 15.5h0m3-6h0m1-5.5h0m2 3.5h0m2-6.5h0m2.5-2h0m2.5-0.5h0m1 2h0m1.5 9.5h0m2.5-7.5h0m2.5-3.5h0m2 12.5h0m2.5-12h0m1 2h0m2.5 4.5h0m-9-29h0m2.5 5.5h0m2-1.5h0m1-2h0m2.5 1h0m1.5 4.5h0m3-2h0m1 0.5h0m3-7h0m2 5.5h0m1.5 4h0m1.5-3.5h0m2 1h0m2.5-2.5h0m1.5 1.5h0m2 4.5h0m2-6.5h0m2 5h0m2-5.5h0m2-4h0m3 1h0m1 3.5h0m1.5-3h0m2.5 1.5h0m-19.5 22.5h0m11-2.5h0m0 8.5h0m2.5 6h0m4.5-13h0m-8.5 12h0m5.5-3.5h0m1.5-5h0m-11-1h0m8-0.5h0m-13.5 9h0m0.5 1.5h0m14-9.5h0m4-6.5h0m-14-1h0m-3 6.5h0m-2 5.5h0m8-6h0m-0.5-2h0m8.5-2.5h0m-2.5-1h0m0.5 4.5h0m-12 8.5h0m-2 0h0m6-11.5h0m-6 13.5h0m0-0.5h0m3.5-5h0m6 1.5h0m-2.5-4.5h0m0 3h0m15-31.5h0m2 4.5h0m2 2.5h0m2-5h0m1 4h0m2-11h0m2 9.5h0m3 0.5h0m1-3.5h0m3.5 1.5h0m1.5-8.5h0m2-0.5h0m0.5 9.5h0m2.5 1.5h0m2-1.5h0m2.5-7h0m2 1h0m2-7h0m2 0.5h0m2 12.5h0m2.5-14h0m2 3h0m2-0.5h0m2-1.5h0m1 11.5h0m2 1.5h0m3-7.5h0m1 6h0m2-2.5h0m3-1.5h0m2 7h0m2-0.5h0m1-3.5h0m3-2h0m1-0.5h0m3 0.5h0m2 6h0m1-7h0m2.5 0h0m1.5 4.5h0m3 4.5h0m1-6.5h0m2-1.5h0m2 2h0m3 0h0m1.5 3h0m1.5-8.5h0m2.5 8h0m1.5-7.5h0m2.5-1.5h0m1.5 11.5h0m2 1h0m2.5-10h0m2-0.5h0m1.5-0.5h0m2.5 6h0m2.5-1h0m0-6.5h0m2 8h0m1.5-5h0m2-6h0m2 7.5h0m2-9h0m2-0.5h0m1.5 9h0m2.5-8.5h0m2 2h0m2 6h0m2-10h0m1.5 9h0m2 0.5h0m3 1h0m1-8h0m1.5 7.5h0m3 1h0m2.5-1.5h0m1.5-11h0m2.5 0h0m1 10.5h0m2.5-1.5h0m2.5-3h0m1.5-0.5h0m2.5 7.5h0m1 0h0m2-2h0m3-8.5h0m1 3h0m2-0.5h0m2 10h0m2 0h0m2.5-1h0m1.5 0h0m-263.5 171h0" stroke="#0000ff" stroke-width="14.0" stroke-linecap="round" fill="none"/>
<path d="M0 0m366 234h0m-0.5 2h0m-0.5 2h0m0 2h0m-0.5 2h0m-0.5 2h0m0 2h0m-0.5 2h0m-0.5 2h0m-133.5 209.5h0m2 3.5h0m2 12.5h0m2-17h0m2.5-9h0m1.5 11.5h0m1.5 3h0m1.5-13.5h0m2.5-1h0m2 12h0m2.5 9.5h0m1.5-8h0m1.5 6h0m2-19h0m3-3h0m1.5 14.5h0m2.5-13.5h0m1 10.5h0m2.5 7h0m1.5-2h0m2.5-5.5h0m1.5 1.5h0m2.5-8h0m2.5 0.5h0m2 7h0m1-13h0m2.5 5h0m2.5 6.5h0m1-1.5h0m2-2h0m2.5-2.5h0m29-6h0m-18 9.5h0m-2.5-11.5h0m26.5-10.5h0m-13-4.5h0m-3 22.5h0m18-22.5h0m-0.5-11h0m-6-4.5h0m3.5 10h0m-25.5 15h0m23.5-0.5h0m-12 17.5h0m1-31.5h0m-6 7h0m15.5-5h0m-6.5 6.5h0m3.5 21h0m-7 0.5h0m-7.5-36h0m10-6h0m-1 24h0m-10-15.5h0m5 27.5h0m16-36h0m-12.5 44h0m6.5-21h0m-4-18.5h0m-6.5 13.5h0m-7 4h0m-2 4.5h0m24-10.5h0m-2.5 23.5h0m-11-35.5h0m-2.5 22.5h0m16.5-19h0m4-8h0m-2.5 25.5h0m3.5 8.5h0m-3.5 7.5h0m-2.5-32.5h0m-10 13.5h0m-9.5 19.5h0m4.5-36.5h0m-1-1h0m-3 39h0m4-40h0m-4.5 29h0m-1.5 6h0m9.5-28h0m-10 18h0m16.5-17h0m-14-9.5h0m0.5 18.5h0m-5-18h0m21.5 16h0m7-7.5h0m-10-4.5h0m-1.5 3.5h0m-9.5 35h0m-7.5-12.5h0m9 0.5h0m8.5-27h0m-10.5 36.5h0m21.5-37h0m-10 12.5h0m-11 18.5h0m-4-6h0m-2-24h0m31-65.5h0m5 6.5h0m-0.5 1h0m-4 0h0m1-7h0m2.5-0.5h0m-2 6h0m1 1h0m1-1.5h0m-4-1.5h0m2 1h0m1-2h0m19 28.5h0m-17 23h0m19.5-23.5h0m-7.5 30h0m-8 5.5h0m7-17h0m-12-1.5h0m8 23.5h0m2.5-13h0m6 9.5h0m-15.5-34.5h0m15.5 3h0m-15.5-11h0m8 23.5h0m-8 21h0m-1.5-32h0m1 3h0m19 27.5h0m-20.5-30.5h0m-2.5 16.5h0m15.5 5h0m-4-28.5h0m-4.5 39h0m1-9.5h0m9.5 3.5h0m-4-22.5h0m7.5-3h0m2 15h0m-16-24h0m5 9h0m-7-12h0m-3 42.5h0m23-10.5h0m-17.5-33.5h0m13.5 19h0m1 2.5h0m-9-15.5h0m5 14h0m-18.5 0h0m25.5-11.5h0m-12 19h0m5-23h0m6.5 6.5h0m-3 13h0m-4.5-19.5h0m-7 8h0m-6-12h0m4 34h0m-8-6h0m18-26h0m3 29.5h0m-4 11h0m-1.5-36.5h0m-1 11.5h0m-6 18h0m-9-1h0m0.5-19.5h0m1 3.5h0m4.5 12h0m5 3h0m-6-30.5h0m0.5 23.5h0m8 18h0m-10-3h0m18.5-1h0m-20.5-10h0m0 14h0m55.5-90h0m0.5 2h0m-1 2h0m0.5 2h0m-0.5 2h0m0 2h0m-1 2h0m-1 2h0m1 2h0m0.5 2h0m-1.5 2h0m0 2h0m0.5 2h0m-0.5 2h0m-1 2h0m0 2h0m0 2h0m0 2h0m-0.5 2h0m-10 46h0m0.5-2h0m-1.5 11h0m1.5-34.5h0m0.5 33.5h0m-1.5-40.5h0m-0.5 40h0m0-2.5h0m1-17.5h0m-0.5 11h0m1.5-4h0m-1-5.5h0m0 2h0m-0.5 10.5h0m0.5-21.5h0m0 21.5h0m0.5-14.5h0m0.5-19h0m-1 13h0m1 31h0m-1 3h0m0.5-29.5h0m0 20.5h0m-1-9.5h0m0 6.5h0m1-22h0m-0.5 15h0m0-7h0m26 201h0m-4-5.5h0m-5-5.5h0m12.5 5.5h0m-11-10h0m8 2.5h0m-5.5-6h0m12.5 6h0m-5-6.5h0m-3-4h0m0-2.5h0m5 0.5h0m2.5-1h0m7.5 2h0m-6.5-6h0m5.5 0.5h0m-1-2.5h0m6.5 1h0m-5.5-5.5h0m4.5 0h0m3.5 0h0m-8.5-7.5h0m12.5 5h0m0-2.5h0m-10-8.5h0m11 4h0m-1-3h0m-1.5-3h0m-4.5-5h0m3.5 0h0m1.5-1.5h0m-2.5-4h0m13.5 5.5h0m-0.5-2.5h0m-5.5-5.5h0m8 2h0m-8-7h0m4.5 0.5h0m4 0h0m4.5 0h0m-5.5-5.5h0m-1.5-3h0m7 2h0m2.5-1h0m-7-6.5h0m-1-3h0m9.5 3.5h0m1.5-1.5h0m-3-4h0m3.5-0.5h0m2-1.5h0m-2-3h0m-6.5-6h0m8 2h0m7.5 2h0m-10.5-8.5h0m-0.5-2.5h0m3-0.5h0m2.5-1h0m10.5 4h0m-1-3h0m-2-3.5h0m5 0.5h0m-3-4h0m4-0.5h0m-2-3.5h0m0-2h0m3.5-0.5h0m-1.5-3.5h0m-5.5-5h0m1-1.5h0m4.5-0.5h0m7 1.5h0m-5.5-5h0m7.5 1h0m3-0.5h0m-6-5.5h0m-2.5-3.5h0m6.5 0.5h0m0-2h0m-1-3h0m-2-5h0m0.5-2.5h0m5 1.5h0m7 4h0m0-3h0m0-3h0m0-3h0m7.5 4h0m-101.5 56h0m0 2h0m0 2h0m0 2h0m0 2h0m101-8h0m0.5 2h0m1 2h0m0 2.5h0m1.5 2h0m-0.5 2h0m1 2.5h0m0.5 2h0m1 2h0m5.5 26h0m-1.5 2.5h0m-1 2h0m4 1.5h0m-1 2h0m-0.5 2.5h0m4 1h0m-4 3h0m4 1.5h0m1 1.5h0m-0.5 2.5h0m-2.5 2.5h0m9.5-42.5h0m2-1h0m0.5-2h0m2-1h0m1.5-1.5h0m1.5-1.5h0m1-1.5h0m1.5-1.5h0m-56 84h0m1 2h0m0.5 2.5h0m1 2h0m0.5 2.5h0m1 2h0m78-134h0m18-4h0m-10.5-1.5h0m-6 17.5h0m23-5h0m-24.5-3.5h0m14 0.5h0m12-10.5h0m-21 7.5h0m-4 4.5h0m3.5-14.5h0m-2.5 11h0m22.5 1h0m-15 5.5h0m12.5-10h0m-3 11.5h0m-3.5 0.5h0m-2.5-5h0m-1.5 0.5h0m-11-11h0m4.5 4.5h0m6.5 12h0m3.5-4h0m2.5-7.5h0m-0.5 8.5h0m-15-12h0m18.5 1.5h0m-20.5 4h0m25-10h0m-0.5 11.5h0m-15.5 0.5h0m-13.5-4.5h0m16 4.5h0m14 6.5h0m-1-12.5h0m-0.5-1.5h0m-26 14.5h0m14.5-17.5h0m10.5-1h0m-3 6.5h0m-1-4.5h0m-0.5 16.5h0m-14.5-17h0m19 30h0m0.5-1.5h0m0 4h0m-1.5-5h0m2 1.5h0m-1 0h0m1 3h0m-1.5-1h0m-33 16h0m7.5 0.5h0m-2.5-1h0m1.5-8.5h0m-7.5 11.5h0m5-2.5h0m4.5 0h0m-3.5 7h0m-2.5-2h0m-0.5 6h0m6.5-11h0m-2-4.5h0m-7 2.5h0m8.5 12h0m-5.5-14h0m8 14h0m-4-16.5h0m1 8.5h0m-7.5-9h0m9 4.5h0m-3.5 8h0m1.5-6.5h0m-5-4.5h0m38.5-73h0m-0.5-2.5h0m3-0.5h0m-3-4h0m2-1.5h0m4.5 0.5h0m-0.5-2.5h0m-0.5-3h0m2.5-1h0m1-1.5h0m2-1.5h0m1.5-1h0m-3.5-4.5h0m5 0h0m-1-2.5h0m1.5-1.5h0m1.5-1.5h0m-2-3.5h0m2-1h0m4 0h0m-3-4h0m1.5-1.5h0m1.5-1.5h0m3.5-0.5h0m-1.5-3h0m1.5-1.5h0m-1.5-3h0m3-1h0m2.5-0.5h0m1-2h0m1.5-1.5h0m-1-2.5h0m3-1h0m0-2h0m2-1.5h0m-0.5-2.5h0m2-1h0m1.5-1.5h0m-2-3.5h0m2-1.5h0m-0.5-3h0m3.5-0.5h0m-0.5-2.5h0m3-1h0m-0.5-3h0m3.5 0h0m0.5-3h0m3.5 0.5h0m1.5-1.5h0m-1.5-4.5h0m1.5-1.5h0m3.5 0.5h0m2.5-0.5h0m2.5-0.5h0m0.5-2.5h0m-0.5-3.5h0m2.5-0.5h0m3-2h0m-3 3.5h0m2.5 1.5h0m1 1.5h0m3 1.5h0m-2.5 3.5h0m2.5 1h0m-1 3h0m5 0h0m-1.5 3.5h0m-1 2h0m1 2h0m5 1h0m-5 3h0m1.5 2h0m0.5 2h0m0 2h0m3 2h0m-1.5 2h0m-1 2.5h0m5.5 1h0m-4 3h0m4.5 1.5h0m1 2h0m-3 2.5h0m2 1.5h0m-3 3h0m4 1.5h0m-3 2.5h0m5.5 1h0m-2.5 2.5h0m-1.5 2.5h0m0.5 1.5h0m1 2h0m2 2h0m-2.5 2.5h0m4 1.5h0m0 2h0m-2.5 2h0m0 2.5h0m3.5 1h0m-2 3h0m3 1h0m-0.5 2.5h0m4 0h0m-2.5 3.5h0m2 1.5h0m2 1.5h0m1.5 1h0m-0.5 3h0m-1.5 2.5h0m4 0.5h0m-2 3h0m3.5 1h0m-2 4h0m3 18.5h0m1.5-19h0m1.5 13h0m2-12h0m3 20.5h0m1.5-5.5h0m2-21h0m2 12h0m2.5 6h0m2-2.5h0m0.5-13h0m3 25h0m2-19h0m1 7.5h0m3.5-18.5h0m1 8h0m2-4h0m3 23h0m1.5-7h0m2.5-15.5h0m1.5 8.5h0m1.5 13h0m3-23.5h0m-1 16h0m3-16h0m2 17h0m1.5-5h0m1.5-3.5h0m3-3h0m1 18h0m2-3h0m2-17.5h0m3 19.5h0m2.5-13.5h0m-1.5-3.5h0m3.5-4.5h0m1.5 4h0m1.5 9h0m1.5-19h0m3 1.5h0m1 12h0m2-5.5h0m2.5 8h0m2.5 3.5h0m2-23h0m1.5 27h0m1.5-12.5h0m2.5 0.5h0m2.5-15h0m1 11h0m2.5 12h0m1.5-16h0m3-3h0m2 4.5h0m1.5-3h0m1-5.5h0m3 20h0m1.5-8.5h0m2-3h0m2 9h0m2 3h0m2 3h0m3-9h0m1.5-12.5h0m2.5 10.5h0m1-3h0m3 10h0m2-7h0m-124 58h0m9.5 10h0m-5 2h0m4-13h0m-8 3h0m9.5 2h0m-6-9h0m11.5 17h0m-11-7.5h0m5.5-7h0m-6.5-4h0m5.5 1.5h0m-1 5.5h0m-6.5 5h0m13-1.5h0m-3.5 6h0m-7.5-0.5h0m0-7h0m7 3.5h0m4-11.5h0m-6.5 10.5h0m-3 0h0m9.5 5h0m-9.5 0h0m6-11h0m-11 4.5h0m4 7h0m12.5-10h0m100-54h0m2-1.5h0m3-1h0m-0.5-2.5h0m-1.5-3h0m3-1h0m2-1.5h0m-1.5-3h0m1-2h0m1.5-1.5h0m3-1h0m-0.5-2.5h0m1.5-1.5h0m2.5-1.5h0m0-2.5h0m-1.5-2.5h0m-1-2.5h0m2.5-1.5h0m3.5-1h0m-1-2.5h0m0-2h0m2.5-1.5h0m-0.5-2.5h0m1.5-1.5h0m-0.5-2.5h0m1.5-1.5h0m-2-3.5h0m4 0h0m-1-3h0m1.5-2h0m2-1.5h0m0.5-2h0m2.5-1h0m1.5-1.5h0m3-1h0m-4.5 7h0m7 8h0m-1.5-7h0m5 4.5h0m-3-10h0m4.5 3.5h0m6.5 6.5h0m-5.5-13.5h0m9 10.5h0m-5-12h0m0-4h0m5.5 5h0m5 4h0m0-4h0m1-2h0m-3.5-9.5h0m5 3.5h0m1-2h0m3.5 2h0m1-2h0m-0.5-3h0m-2-5h0m7 4h0m-3-6h0m9.5 6.5h0m-1-4h0m6.5 3.5h0m-7-10h0m8.5 5.5h0m-5-8h0m9 6.5h0m-0.5-4h0m-1.5-4.5h0m7 4h0m-1.5-5h0m5.5 2.5h0m-6.5-10h0m-2.5-5.5h0m16 2h0m-13 8.5h0m-0.5 2h0m5 0h0m4.5 0.5h0m8-1.5h0m-12 7.5h0m2 1.5h0m4.5 0h0m9.5-2h0m-3.5 3.5h0m-4 4h0m9-0.5h0m-11.5 5.5h0m3.5 1.5h0m2.5 1.5h0m-4 3h0m11-0.5h0m-0.5 2.5h0m-2 2.5h0m-9 5h0m17.5-3h0m-7.5 4.5h0m-6 4h0m7.5 0h0m-34 49h0m0.5-14.5h0m2.5 2h0m10.5-1.5h0m-3.5 8.5h0m-0.5-7.5h0m3.5 1h0m0 14h0m-14.5-7h0m8-1.5h0m-2.5-3h0m-3-4h0m9.5-1h0m-1.5 5.5h0m1.5-1h0m3 6h0m-8.5-11h0m-1.5 0h0m7.5 15h0m2 1.5h0m-13.5-9h0m0 4.5h0m-1-11h0m7-0.5h0m-6.5 13.5h0m60-33.5h0m-6.5 32.5h0m5 2.5h0m4-6h0m-8.5-19h0m-13 0h0m8.5-9.5h0m15.5 19.5h0m-20.5-13h0m4.5 4.5h0m-6 17h0m4.5 3h0m-3.5 11.5h0m15-25h0m-6.5 10.5h0m13 8h0m-11.5-24h0m4.5 2h0m-7-9h0m3.5 4h0m-5-7h0m-5.5 5h0m-3 24.5h0m1.5-29h0m23.5 22.5h0m-6.5 0.5h0m5.5-4h0m-9-15h0m5-2h0m-12 37.5h0m-0.5-31.5h0m2.5-1.5h0m1.5-8.5h0m-11 24h0m5.5-25h0m3.5 46h0m-4.5-2.5h0m4-10.5h0m9-11.5h0m2.5 17.5h0m-17-12.5h0m20.5-1h0m-13-8.5h0m-1 3h0m-5.5-11.5h0m-0.5 6.5h0m1 20h0m1.5-4.5h0m17 11h0m-6 1h0m-3 2.5h0m-11-4.5h0m13.5-15h0m-7.5 1h0m15.5 7.5h0m-13 9.5h0m8.5-35h0m-1.5-4.5h0m3.5 3h0m1.5 11h0m-18.5-10.5h0m13.5-4h0m-17 38h0m13.5-14h0m16.5 32h0m1 9h0m2.5-3.5h0m2-16.5h0m2 15.5h0m2-13.5h0m3.5 20.5h0m1.5-22.5h0m1.5 19.5h0m2.5-5.5h0m2-10h0m1.5 20.5h0m1.5-17.5h0m3-3.5h0m0.5 16h0m2.5 6h0m2.5-17.5h0m2 11.5h0m1.5 1.5h0m3-10.5h0m1.5 12.5h0m1.5-15.5h0m3.5-5.5h0m0.5-2h0m3 7h0m2 20.5h0m2.5-5.5h0m0.5-10.5h0m2.5-2h0m2.5 12h0m1-16h0m2.5 9h0m2 9h0m2-15.5h0m2 12.5h0m2.5 2.5h0m2-20.5h0m2 17h0m2-5.5h0m2-8.5h0m2 2.5h0m2.5 10.5h0m0.5 1h0m2.5-10.5h0m2.5 12h0m1.5-1h0m2-76h0m-1.5 4h0m1-5h0m-1 5.5h0m0-5.5h0m2.5 3.5h0m-0.5 4h0m-2.5-8.5h0m2 4.5h0m-2 4h0m47.5-42h0m-15.5 11h0m16-13h0m-24 4h0m6 8h0m3.5 1h0m-10-10.5h0m-11 0.5h0m35 10.5h0m-26 5.5h0m-10.5-8h0m26.5-3.5h0m5.5 5.5h0m-5-10.5h0m-8.5 4.5h0m17.5 10.5h0m-4.5-10.5h0m-12.5 3.5h0m8 5.5h0m-1-15.5h0m-19.5 17.5h0m20.5-11.5h0m-26 12.5h0m21.5-5h0m-8.5-2.5h0m-4-2h0m26.5-8h0m-39 15h0m36-15.5h0m-8.5-1h0m-21 1.5h0m26.5 1.5h0m-32.5 14h0m31-16h0m-22 7h0m8.5-5.5h0m-6.5 12.5h0m23.5-2.5h0m-25 5.5h0m5.5-15.5h0m14.5 9.5h0m-29-5h0m9 9h0m-1.5-10.5h0m7-3h0m20 3.5h0m-31.5-3.5h0m17 12h0m-15-26h0m0 1h0m0-1h0m0.5 1h0m-0.5-1h0m0 1.5h0m37.5 46.5h0m0-0.5h0m0 0h0m0-0.5h0m0-3h0m0 0h0m0 1h0m25.5 82h0m2.5 8.5h0m-2-8.5h0m1 18.5h0m-3-8.5h0m1.5-9.5h0m0 7h0m3-11.5h0m-2-10.5h0m1.5 3h0m-2.5 6.5h0m3.5 12.5h0m-1-20.5h0m-1.5 23h0m-2.5-18h0m1.5 27h0m2-21h0m-1.5-13h0m3.5 2h0m-5 16.5h0m3-12.5h0m-1.5-2.5h0m0.5 13h0m-2 3.5h0m4.5 9h0m-2.5-14h0m-2 0h0m-11.5 60.5h0m0 2h0m0 2h0m0 2h0m0.5 2.5h0m0 2h0m0 2h0m0 2h0m0 2h0m0 2h0m0.5 2.5h0m0 2h0m0 2h0m0 2h0m23.5-74.5h0m-0.5-10h0m2 22.5h0m1.5-35h0m-0.5 27h0m2.5-17.5h0m1 4h0m2.5-1h0m1 0h0m-1 8.5h0m3.5-25.5h0m-1 10.5h0m2-9h0m0 21.5h0m2 15.5h0m2-26h0m1.5 28h0m1.5-8.5h0m1-5.5h0m2.5 5h0m2.5 3h0m0-28.5h0m2 17h0m1 20.5h0m0-25.5h0m2.5 20.5h0m2-10h0m1.5-6.5h0m3 15.5h0m0-27h0m1 3h0m3 13h0m1.5-0.5h0m2.5-15h0m-1 10.5h0m2 13h0m3-8h0m1.5 16h0m0-5h0m1.5-7h0m3.5 11.5h0m1.5-3.5h0m2.5-1.5h0m1.5-0.5h0m1.5 2h0m2 11h0m2.5-22.5h0m1.5 5h0m2.5-9.5h0m1 11h0m2.5 12h0m1.5-26.5h0m2 26h0m2-6.5h0m2.5-3.5h0m1.5-0.5h0m2.5-9.5h0m2-5h0m2 18h0m-0.5-5h0m2.5-6h0m2 6.5h0m2-10.5h0m2.5 20.5h0m1-8.5h0m3-9h0m1.5 24.5h0m2-3h0m-0.5-1.5h0m2.5-8.5h0m2 8h0m2.5-3h0m0 12h0m2-6.5h0m-2.5-27.5h0m16.5-1h0m-6-6.5h0m13.5 3h0m-22-7h0m20 0h0m1 14.5h0m-0.5 5.5h0m-4.5-9h0m-6-4h0m-3 14h0m-2.5 0.5h0m7.5-21.5h0m8 16.5h0m9-15h0m-11.5 21h0m4 0h0m-19.5-18h0m17-2h0m-20.5 19.5h0m23-5.5h0m-11-5.5h0m-4-1h0m-3.5 13h0m18-14h0m-3-5.5h0m-19 11h0m7.5-8h0m4 17h0m17.5-5h0m-13 1.5h0m-7.5 1.5h0m14-15h0m0.5 3.5h0m-16.5-1.5h0m4.5-6h0m16.5 11.5h0m-8-14h0m-17 14h0m16 6h0m-10-15.5h0m1.5 18.5h0m17.5-22.5h0m-7 12.5h0m9.5 0.5h0m-10 41.5h0m2 5.5h0m2-18h0m2-4h0m2 1h0m3 9h0m0.5 14h0m3-20.5h0m2 16h0m-1-1h0m2.5 8h0m1.5-3h0m2.5-11h0m2 21h0m1.5-14h0m3-15h0m2-0.5h0m1.5 21h0m1.5 3.5h0m3 6h0m1-20h0m2.5 19.5h0m1 2h0m0-29h0m1-1.5h0m2 26.5h0m2.5 5h0m1-8h0m0.5-13h0m1.5 17.5h0m0-25h0m2.5 18h0m2.5-7.5h0m1.5 21h0m3-8h0m0.5-23h0m3 1h0m0.5 30h0m2.5-15h0m1.5 0h0m2.5 2h0m2.5 9.5h0m2-23.5h0m1.5 17h0m3.5-11h0m1.5-12h0m1.5 30.5h0m2-20h0m2.5 16h0m1-3h0m2.5-6h0m1.5 6.5h0m2.5-9.5h0m1.5-7h0m2 3h0m2-1h0m3 16h0m-125.5 32.5h0m130.5-220.5h0m18 13h0m-6 1h0m-15.5-10h0m9.5 9h0m5.5-19h0m-0.5 24.5h0m-3.5-11h0m6.5 7h0m3 1.5h0m-11-9h0m-5.5-8.5h0m-6.5 22h0m24.5 0h0m-1.5-7.5h0m-11.5-8h0m3.5 2.5h0m1.5-8h0m1.5 12.5h0m6 6.5h0m-20-24h0m4.5 22h0m-6.5-2.5h0m15-8h0m0.5 4h0m-6 2h0m14-5h0m-24-1.5h0m22.5-6h0m1 17.5h0m-16.5-20.5h0m-7.5-2.5h0m-0.5 5.5h0m21 12.5h0m-8-6h0m5.5 10h0m-10-23.5h0m11 28h0m-19-9h0m14.5-6.5h0m-10-8.5h0m0.5 19h0m1-8.5h0m18 2.5h0m-6.5 6h0m8.5 3h0m11.5-38h0m1.5 2h0m1 2h0m-1.5 2.5h0m1 2h0m0 2h0m-0.5 2h0m1 2h0m0.5 2h0m0 2h0m-1.5 2.5h0m1.5 2h0m0.5 2h0m-1 2h0m1 2h0m-1 2h0m0.5 2h0m0.5 2h0m-0.5 2h0m0.5 2h0m0 2h0m-1 2h0m0 2h0m1 2h0m1 2h0m-1.5 2h0m1 2h0m0.5 2h0m10 33h0m-1.5 11h0m3-13h0m-0.5-1.5h0m-3 15.5h0m5.5-13.5h0m-2 8.5h0m-1 1.5h0m1 9.5h0m1-13h0m-3.5-6h0m-0.5 17.5h0m2 4h0m0-1h0m-1.5-9h0m-0.5 6h0m2 4h0m-2.5-20.5h0m4 18h0m-4 6h0m1.5-23.5h0m-0.5 24h0m16-190.5h0m1 1.5h0m1 2h0m0.5 2.5h0m2 1h0m1.5 2h0m0 2.5h0m0.5 2h0m2 1.5h0m2 1.5h0m0 2h0m1.5 1.5h0m1 2h0m0.5 2h0m1 1.5h0m0.5 2.5h0m2 1h0m0.5 2h0m1.5 27h0m-0.5 2h0m0.5 2h0m-0.5 2.5h0m1.5 2h0m0.5 2h0m0.5 2h0m-1 2.5h0m-0.5 2h0m0.5 2h0m1.5 2h0m-1.5 2.5h0m0.5 2h0m1 2h0m0 2h0m0.5 2.5h0m0.5 2h0m-7.5 22.5h0m12-10.5h0m-6.5 11h0m12.5-11h0m0 3h0m-0.5 4h0m-7.5 12h0m13.5-12h0m-3 7h0m2.5-0.5h0m-3.5 11.5h0m3-1.5h0m9-13.5h0m-5.5 15h0m4.5-4.5h0m5-5.5h0m-2 9h0m4.5-4h0m-1.5 7h0m6-7.5h0m-3 16h0m3.5-6h0m1.5 3h0m3-4h0m3.5-4.5h0m3-4h0m0.5 7h0m4.5-3.5h0m-1 6.5h0m-1.5 8.5h0m3.5-2.5h0m3.5-2h0m-0.5 5h0m6-7.5h0m4.5-5h0m-1 8.5h0m-3 5.5h0m1 2h0m5-1.5h0m-5.5 7h0m3.5 0h0m-1 3.5h0m11.5-6.5h0m-0.5 3.5h0m4.5-1h0m-102.5 25h0m0 16h0m0-16.5h0m0 6h0m0 1h0m0-0.5h0m0 12.5h0m0 3.5h0m0-21h0m0 5h0m91 10h0m15.5-24h0m-8.5 17h0m12-15h0m-3.5 10h0m9.5-11h0m-13 24.5h0m-1 5.5h0m11.5-14.5h0m4-2.5h0m0 4h0m-4 11h0m-1 5h0m1.5 1.5h0m7.5-7.5h0m11-13.5h0m-2.5 7.5h0m-3 8.5h0m-6 10.5h0m11-14.5h0m-6.5 14.5h0m3.5-1.5h0m10-12.5h0m-1.5 6h0m9-11h0m-4.5 12h0m6.5-7h0m-2.5 8h0m4-2.5h0m-10 21h0m5-8.5h0m-1.5 6.5h0m6-10.5h0m9-11h0m-12 20h0m-2 7.5h0m6.5-6.5h0m2.5-4h0m-1.5 6h0m12-15.5h0m2-3.5h0m-6 14h0m6.5-6.5h0m5.5-5h0m-12 23h0m-1 5h0m2.5-0.5h0m13.5-21.5h0m4-2.5h0m1.5 1h0m-13.5 25.5h0m10.5-12.5h0m1.5 1h0m6.5-7h0m-5.5 13h0m0.5 3.5h0m-1 1.5h0m8.5-10h0m2 0h0m1.5-37h0m6-7h0m1.5 2h0m-1.5 6.5h0m9-12h0m-3.5 11h0m7.5-9.5h0m-1.5 7h0m-1 6.5h0m-2.5 8.5h0m7.5-10h0m-2 8h0m5-4.5h0m3-1.5h0m-0.5 5h0m-4 11.5h0m3-1h0m9-12h0m6-4h0m-2.5 7h0m-4 9h0m4.5-3h0m6.5-5.5h0m1 2h0m-0.5 4.5h0m-2 6h0m-2.5 7h0m8-8h0m-1 5h0m2.5 0.5h0m-3 7.5h0m13.5-15.5h0m3.5-1.5h0m-5.5 11.5h0m-2 6h0m-1 4.5h0m4 26h0m-74.5-4h0m8.5 0h0m4 0h0m-9 0h0m10 0h0m-10 0h0m2.5 0h0m-3.5 0h0m3.5 0h0m-2.5 0h0m1.5 0h0m107-62.5h0m0 1.5h0m0 3h0m0 1.5h0m0 11h0m0-17h0m0 3h0m0 6.5h0m0 17h0m0-3h0m0-2.5h0m0-7.5h0m0 2h0m-9.5 107h0m3 5h0m-8 12.5h0m-7.5-2h0m-3.5-0.5h0m3.5 6h0m14 4.5h0m0-30.5h0m-12.5 12.5h0m4.5 1h0m6.5-8h0m-13.5-2.5h0m13.5-4.5h0m-4.5 3.5h0m-5.5 13.5h0m5 17.5h0m-2.5-26.5h0m-8 15.5h0m-3-9.5h0m16 16.5h0m-9.5-8.5h0m-0.5-12h0m11.5 4h0m-5.5-14h0m-3.5 22.5h0m9.5-1.5h0m-11-12.5h0m-2.5 24.5h0m8-23h0m-9 9h0m8.5-2h0m-5.5-16h0m1.5 12.5h0m-8 6.5h0m19 1.5h0m-19-17.5h0m16.5 1.5h0m-13.5 9.5h0m-4 19h0m17.5-4h0m-7.5-17.5h0m-8-4h0m8.5 22.5h0m-1.5 2h0m9.5-4h0m0.5-28.5h0m2 33h0m-18-16.5h0m19.5 8h0m-7-22h0m-11.5 17.5h0m16.5 13.5h0m-9.5-19.5h0m31-116h0m-0.5 11.5h0m1-5.5h0m0.5-10h0m-1.5-3h0m0.5-7h0m0 14.5h0m1.5 4h0m-0.5-15h0m-0.5 9h0m-1-13h0m0.5 1h0m0 0h0m0.5 0.5h0m-1 20h0m2 4h0m-2-0.5h0m2.5-13.5h0m0.5 4.5h0m-1-6.5h0m-4.5 65.5h0m2.5 1.5h0m1.5 5h0m3.5 1.5h0m1.5-12.5h0m1 4h0m2 4h0m2-2h0m2.5-5h0m1.5 10h0m2 1h0m3 2h0m1.5-4h0m1-1.5h0m3.5-10h0m1.5 7h0m2.5 2h0m2-3.5h0m2 6.5h0m1-11.5h0m2.5 4h0m2.5 3h0m1 5h0m2-10.5h0m2 2h0m2 3h0m2-5h0m2 5h0m2.5-4.5h0m1.5 6.5h0m3-5.5h0m-37 25.5h0m-0.5-1.5h0m1 6h0m-0.5-3h0m0.5 2h0m-0.5 1.5h0m0.5-4h0m-0.5 4h0m0-1.5h0m52-33h0m2.5 14.5h0m-6-5h0m0.5-17h0m4 2.5h0m-7.5 19h0m5-3h0m3.5 5.5h0m-1 0.5h0m-4-11h0m-3.5 4h0m3-9.5h0m1.5 16h0m-2.5-16h0m3.5 14h0m0-6.5h0m1-7h0m-2 9h0m3.5 7h0m-0.5-3.5h0m-0.5-15.5h0m2 21h0m-3.5-19h0m-2-7.5h0m-3.5 23h0m16.5-34h0m1.5-3.5h0m-1 3h0m0.5 0.5h0m0.5 2.5h0m-2-0.5h0m0.5 0h0m0.5-4h0m0 2h0m20-19.5h0m-2 1h0m0.5-4.5h0m-2 0h0m1.5 4.5h0m0-4.5h0m0-1h0m-1.5 5.5h0m0.5 3h0m2-5h0m2.5 17.5h0m0 2.5h0m1 2h0m2.5 1h0m0.5 2h0m1.5 1.5h0m0.5 2h0m2 1.5h0m0 2.5h0m1 2h0m2 1h0m1.5 2h0m1.5 1.5h0m2 1.5h0m1.5 1.5h0m1 2h0m2-1.5h0m-0.5-2.5h0m1.5-1.5h0m1-2h0m0.5-2h0m1.5-1.5h0m1-2h0m1.5-2h0m0.5-2h0m0.5-2.5h0m2.5-1h0m0.5-2.5h0m0-2h0m1-2h0m1.5-2h0m1.5-1.5h0m-63 94h0m1.5-2h0m-1-3.5h0m1-1.5h0m3.5 0h0m1-2h0m2-1h0m0.5-2.5h0m1-2h0m3 0h0m-1-4h0m3.5 0.5h0m2-1.5h0m1-2h0m1.5-2h0m0.5-2h0m3-0.5h0m41 8.5h0m-6-9.5h0m6 3.5h0m-7-10.5h0m7 4.5h0m-4-7.5h0m1.5-1h0m7 4h0m4 1h0m1.5-1.5h0m1.5-1h0m-5-8.5h0m7.5 5h0m-5-8.5h0m3.5 1h0m1-2.5h0m7.5 5.5h0m5 1.5h0m-8-11h0m1-2.5h0m2.5-0.5h0m1-2h0m4 1.5h0m6.5 3.5h0m-8-11h0m7.5 4.5h0m1-2h0m-1-5.5h0m4 2h0m2.5 0h0m1.5-1.5h0m-1-5.5h0m2-0.5h0m9 10h0m-5-11.5h0m6 5h0m3.5 2.5h0m-0.5-5.5h0m-2.5-7.5h0m10 11.5h0m-3.5-9h0m2-1h0m1-2.5h0m2-0.5h0m-1-6.5h0m3.5 2.5h0m6 6.5h0m3 1h0m2.5 0.5h0m-6-15.5h0m7.5 9.5h0m3 0.5h0m3 1h0m-1-6h0m-3-10h0m3.5 1.5h0m2.5 6h0m5-4h0m-2 7h0m1 1.5h0m3.5-1h0m3.5-1.5h0m2 0.5h0m1 1.5h0m1 2.5h0m5-4h0m-0.5 4.5h0m5-2.5h0m1.5 1.5h0m-7 11.5h0m10.5-9.5h0m-3 7h0m-1.5 4.5h0m10-8.5h0m1 2h0m1.5 1.5h0m2.5 0h0m-3.5 7.5h0m1 2h0m-4 7.5h0m4.5-2h0m-97.5 36h0m0 0h0m0 0.5h0m0-0.5h0m0 0.5h0m107-116h0m-5 14h0m14.5 4h0m-10 4h0m0.5-7h0m-5-6.5h0m5.5-4h0m5 17.5h0m-7-18h0m-2.5-4.5h0m13 16.5h0m-12.5 5h0m5-0.5h0m0-6.5h0m-5 8.5h0m9-17.5h0m1.5 1.5h0m-11.5 4h0m8 7h0m4 0.5h0m-2.5-5h0m-8.5 7.5h0m-2.5-3.5h0m9 6h0m3.5-1.5h0m3.5-2h0m-8-16h0m-6.5-2.5h0m0 18h0m10-12h0m-3.5-9h0m-2 6.5h0m-0.5 8.5h0m29.5-85h0m0-1.5h0m2 2h0m-7-12h0m6.5-1h0m0 9.5h0m1-8.5h0m-5 11.5h0m-0.5-1.5h0m5-11.5h0m0.5 7h0m-1 5h0m-2-8h0m1.5 0h0m0.5 0.5h0m-3 2h0m-7 79h0m0-3.5h0m0 3.5h0m51.5-39.5h0m-2-8h0m4 26h0m-3 15.5h0m-3-29h0m7.5-2h0m0 32h0m-7-11h0m3-0.5h0m-0.5 5.5h0m2-9h0m0.5 12.5h0m-2-38h0m-1 6h0m-1.5-5.5h0m3.5 20.5h0m0.5-23h0m0 23.5h0m-2.5 15h0m5 0h0m0 1h0m-6.5-31.5h0m5.5 21.5h0m-3.5-16h0m0.5-2.5h0m0 33h0m0-43h0m0.5 34h0m0.5 7.5h0m3.5-7h0m-2.5 11.5h0m-3.5-32.5h0m-3 31h0m2-40h0m3 33.5h0m-2-23h0m4-9.5h0m7.5 27h0m2.5-1h0m9-3h0m-4 17h0m-9 0h0m0-10h0m12-3h0m-5-2.5h0m-4 8.5h0m5 0h0m1-12h0m-6 8.5h0m-2-8.5h0m2.5 0h0m1 1h0m-5.5-1h0m12.5 14h0m-7.5-5.5h0m6-8h0m3 17h0m2-3h0m-4 2h0m0.5-10.5h0m-6.5 13.5h0m9.5-7.5h0m-9.5 0h0m-5.5-5h0m7-4.5h0m45 13h0m-6.5 2h0m3 13.5h0m10-9h0m-2-4.5h0m-13 3h0m8.5 10h0m-3 0.5h0m1.5-3h0m7-2h0m-2.5-4h0m2.5-4.5h0m-0.5 9h0m-19-11.5h0m7 13h0m2.5 0h0m0-11h0m-11.5 8.5h0m20-2.5h0m-18.5-2.5h0m5.5 8h0m1.5-2.5h0m2-7.5h0m-2-2h0m-8 14h0m5 0h0m5-1h0m-7.5-14.5h0m-2.5 15h0m19.5-9h0m-36.5 36h0m-2 2.5h0m-1 2h0m4 1.5h0m0 2h0m-3 2.5h0m1.5 2h0m1.5 1.5h0m-0.5 2.5h0m3.5 1h0m1 2h0m-2 2.5h0m-1 2.5h0m3.5 1h0m-4 3h0m3.5 1.5h0m1.5 1.5h0m-4 3h0m5.5 1h0m-3.5 3h0m4 1h0m1 2h0m-4 3h0m3 1.5h0m-1 2.5h0m4 1h0m-3.5 3h0m4.5 1h0m-4 3h0m2.5 1.5h0m3.5 1.5h0m27.5-20.5h0m3-1h0m2.5-0.5h0m1-2h0m-3-4h0m5.5 0.5h0m2-1h0m-4-4.5h0m5.5 0.5h0m-4.5-5h0m3.5 0h0m2.5-1h0m-0.5-3.5h0m0-2.5h0m2.5-0.5h0m4.5 0h0m-4-5h0m4.5 0.5h0m1-2.5h0m1.5-1h0m-1.5-4h0m1.5-1.5h0m2.5-0.5h0m2-1.5h0m2.5-0.5h0m1.5-1.5h0m-4-5h0m2.5-1h0m19-32.5h0m-10 7h0m10 6h0m-11.5-11.5h0m0 10.5h0m11-2h0m-8.5-6h0m-2-1.5h0m11 2.5h0m-14 9h0m14.5-7.5h0m-3-3.5h0m-2.5 10h0m1.5-10h0m-6.5 2.5h0m7.5 2.5h0m-6-5.5h0m8 3h0m-10 10.5h0m4-5h0m-0.5-4.5h0m-2.5-4.5h0m-1.5 2h0m6.5 58h0m1.5-1.5h0m2.5 3.5h0m2 17h0m2.5-17.5h0m1 3.5h0m2 19h0m1.5-15.5h0m3 0h0m2.5 9.5h0m1.5-8.5h0m1.5 9h0m2-11.5h0m3 12.5h0m1-6.5h0m3 6.5h0m2 0h0m2-15.5h0m1.5 7.5h0m2.5-8.5h0m2 20.5h0m1.5-14.5h0m1.5 2.5h0m3 10h0m1-11h0m2.5-8h0m1.5 23.5h0m1.5-21h0m3 3h0m1.5 3h0m2-0.5h0m2.5-3.5h0m1.5 11h0m2-3.5h0m2.5-4.5h0m2.5 2.5h0m-5 40h0m1-2.5h0m-3-6h0m5.5 3h0m-1-3.5h0m4.5 1.5h0m0.5-2.5h0m1.5-1.5h0m2.5 0h0m1-2h0m2.5-0.5h0m-1-4h0m2.5 0h0m0-3h0m-0.5-3.5h0m5.5 3h0m-3-6h0m5.5 2.5h0m-1.5-4.5h0m2.5 0h0m3.5 1.5h0m-1-5h0m4.5 2h0m-2-5.5h0m2.5 0h0m2-1h0m3.5 1h0m-1-5h0m3 0.5h0m-1-4h0m1.5-1.5h0m3 0h0m0.5-2h0m3.5 1h0m1.5-2h0m3 0.5h0m0-3h0m1.5-1.5h0m3 0h0m3 0.5h0m2-1h0m-1.5-5h0m3.5 1.5h0m-33.5-2h0m1.5 1.5h0m3 0h0m-2.5 5.5h0m4.5-1.5h0m1 2h0m0 2.5h0m2 1h0m1.5 1.5h0m1.5 1h0m0 3h0m5-2h0m-2.5 5h0m5.5-1.5h0m-4 6h0m6-2h0m0.5 2.5h0m-3 5h0m3 0.5h0m5-1.5h0m-1 3.5h0m1 2h0m3.5 0h0m-2 4h0m0 3h0m-1218 22.5h0m0 2h0m0 2h0m0 2h0m0 2h0m0 2h0m-14 67h0m2 65h0m4 22h0m0 2h0m0.5 2h0m0 2h0m0 2.5h0m0 2h0m0.5 2h0m0 2h0m0 2h0m0 2h0m0.5 2h0m0 2h0m0 2.5h0m0 2h0m0.5 2h0m0 2h0m-1 36h0m969 78h0" stroke="#000000" stroke-width="14.0" stroke-linecap="round" fill="none"/>
</g>
<path d="M665.8 877.1v-22M665.8 210.4v22M1101.9 877.1v-22M1101.9 210.4v22M1538.0 877.1v-22M1538.0 210.4v22M1974.1 877.1v-22M1974.1 210.4v22M229.7 433.7h22M2410.2 433.7h-22M229.7 657.0h22M2410.2 657.0h-22" stroke="#262626" stroke-width="3.2" fill="none"/>
<rect x="229.7" y="210.4" width="2180.5" height="666.7" fill="none" stroke="#262626" stroke-width="3.2"/>
<rect x="2115.0" y="627.3" width="295.2" height="249.8" fill="#fff" stroke="#262626" stroke-width="2.6"/>
<circle cx="2233.5" cy="672.0" r="6.6" fill="#f00"/>
<text x="2346.5" y="698.6" class="lg">N</text>
<circle cx="2233.5" cy="752.0" r="6.6" fill="#00f"/>
<text x="2346.5" y="778.8" class="lg">E</text>
<circle cx="2233.5" cy="831.0" r="6.6" fill="#000"/>
<text x="2346.5" y="858.3" class="lg">U</text>
<text x="199.5" y="235.3" class="tk" text-anchor="end">5</text>
<text x="199.5" y="458.0" class="tk" text-anchor="end">0</text>
<text x="199.5" y="681.8" class="tk" text-anchor="end">5</text>
<text x="199.5" y="905.0" class="tk" text-anchor="end">10</text>
<text x="137.6" y="685.8" class="mn">-</text>
<text x="100.7" y="909.3" class="mn">-</text>
<text x="226.7" y="975.4" class="tk" text-anchor="middle">0</text>
<text x="662.8" y="975.4" class="tk" text-anchor="middle">5</text>
<text x="1100.6" y="975.4" class="tk" text-anchor="middle">10</text>
<text x="1541.0" y="975.4" class="tk" text-anchor="middle">15</text>
<text x="1975.0" y="975.4" class="tk" text-anchor="middle">20</text>
<text x="2413.1" y="975.4" class="tk" text-anchor="middle">25</text>
<path d="M665.8 1203.9V1870.6M1101.9 1203.9V1870.6M1538.0 1203.9V1870.6M1974.1 1203.9V1870.6" stroke="#000" stroke-opacity="0.13" stroke-width="3.6" fill="none"/>
<path d="M229.7 1427.2H2410.2M229.7 1650.5H2410.2" stroke="#000" stroke-opacity="0.13" stroke-width="3.6" fill="none"/>
<g clip-path="url(#c1)">
<path d="M0 0m249.5 1454.5h0m-2 1.5h0m-2.5 0h0m-6-9h0m4 7h0m5 3h0m-3-10h0m0 9h0m5-9.5h0m-1 1h0m-1 4.5h0m-4.5-5.5h0m-1 11h0m2.5-8.5h0m-7.5 1.5h0m9 5h0m1.5-8h0m-8.5-1h0m2.5 8.5h0m1-7.5h0m-5-1.5h0m53.5-7h0m12.5 2h0m-8.5-6h0m1.5 9.5h0m5.5-3h0m-15-9h0m4.5 11.5h0m-0.5-3h0m-4.5-4.5h0m0.5-1h0m3.5 4.5h0m1 3.5h0m13.5-11h0m-4.5 4.5h0m0 3h0m-9 3.5h0m8-9h0m3 3.5h0m-16-2h0m6 4h0m12 2h0m0.5 1.5h0m-15.5 1.5h0m-3-10.5h0m69.5-9.5h0m12.5 0h0m-11.5 0h0m-1.5 0h0m4 0h0m4 0h0m-5.5 0h0m12 0h0m-10.5 0h0m-7 0h0m4.5 0h0m38.5 0.5h0m0-0.5h0m0 1h0m30-20h0m3.5 0h0m-2 0h0m-1 0h0m2 0h0m9 27h0m1.5 1h0m2-0.5h0m1.5 0h0m2 0.5h0m2-0.5h0m2.5 0.5h0m2.5 1h0m1-1.5h0m2 0h0m2.5 1h0m2-0.5h0m1.5-1h0m2.5 0h0m1.5 1h0m2.5 0h0m1.5-0.5h0m2.5-0.5h0m2.5 2h0m1-0.5h0m2-0.5h0m2-0.5h0m2 1h0m2.5 0h0m2.5-0.5h0m2 0h0m1.5 0.5h0m1.5-0.5h0m2-1h0m2 1.5h0m2 0h0m3-1h0m-33.5-55.5h0m0.5 2h0m0.5 2h0m0.5 2h0m0.5 2h0m40 16h0m26-11h0m26.5 46.5h0m1.5-3.5h0m1.5 3.5h0m3 7.5h0m1-1.5h0m2-3h0m2.5-6h0m2 5.5h0m2.5 4h0m1-5h0m2-5h0m2.5 1.5h0m3-2.5h0m1.5 8.5h0m1.5-6h0m3 7.5h0m1-4.5h0m1.5 7.5h0m2.5-9.5h0m2-1h0m2-0.5h0m1.5 6.5h0m3-2h0m1.5-1h0m1.5 4h0m6-34h0m3.5 0h0m-2.5 0h0m-1.5 0h0m3 0h0m68 22.5h0m2.5 19.5h0m1.5-22h0m2 22h0m2.5-8h0m1-16.5h0m3 20h0m1-12h0m2.5 1.5h0m2 15.5h0m2.5-18.5h0m1.5 13h0m2.5-9h0m1-3.5h0m2 2.5h0m2.5 6h0m2-11h0m1.5 13h0m2.5-0.5h0m1.5 0.5h0m2 4.5h0m2 2h0m3-9.5h0m1.5 5h0m1.5-6h0m3 7h0m2-3.5h0m1.5 2h0m2.5-1.5h0m1.5 6.5h0m2.5-22h0m1 8.5h0m2-7.5h0m3 0h0m1.5 20h0m2-10.5h0m2-1.5h0m2.5 14.5h0m2-2h0m1.5-2h0m1.5-9h0m2.5-0.5h0m1.5 6.5h0m2.5 2.5h0m1.5-12.5h0m2.5-4.5h0m1.5 11.5h0m2.5-3h0m2 6.5h0m1.5-17h0m2.5 9.5h0m1.5-4.5h0m2.5-7.5h0m1 2.5h0m3 17.5h0m2-12.5h0m2.5-6h0m2-1.5h0m1.5 8.5h0m1.5 0.5h0m1.5-42.5h0m-0.5 0h0m2.5 0h0m2 0h0m-1.5 0h0m-2 0h0m28 65.5h0m10 1.5h0m-18.5 0h0m-2-2.5h0m20 1h0m-11.5 0.5h0m-10.5-0.5h0m20.5-1.5h0m-6.5 1h0m1 1.5h0m2-1h0m5.5 0.5h0m-1.5-1.5h0m-17 0h0m0.5-0.5h0m5.5 1h0m4 0h0m-6-1h0m46-42.5h0m0 0h0m0.5 0h0m0.5 0h0m-2.5 0h0m18 1.5h0m2-7.5h0m1 10.5h0m2-4h0m3-0.5h0m1 3.5h0m3-3.5h0m1.5 2h0m2.5-5.5h0m1-1h0m2 7h0m2-0.5h0m2 2h0m2 0h0m2.5-5h0m2.5 3.5h0m2-3.5h0m1 2h0m2.5-5.5h0m2 2h0m1.5 0.5h0m2.5 7h0m2-9h0m2 1h0m3-1.5h0m1.5 5h0m1 1h0m2-0.5h0m2 4h0m3-7h0m2-2h0m1-1h0m3 4h0m1-5h0m2 1.5h0m2 9h0m2-10.5h0m3 9.5h0m1-9.5h0m2.5 7h0m2-6h0m1.5-1h0m2.5 10.5h0m2.5-4h0m1.5 3.5h0m2.5-7h0m1.5 2.5h0m1.5 3.5h0m2 2.5h0m45.5 48h0m0 0h0m0 0h0m0 0h0m0 0h0m57.5-12h0m-1.5 0h0m0.5 0h0m36-46h0m0 0h0m7 8h0m1.5-9.5h0m1.5 6.5h0m2-7h0m2 0h0m3 6.5h0m1.5 4.5h0m1.5-1h0m3-1h0m1.5-7.5h0m2.5 4h0m1.5 0h0m1.5 2h0m2-2.5h0m1.5 2h0m3.5 2h0m2-0.5h0m1-7h0m3 6h0m1-3.5h0m3-3.5h0m0.5 0.5h0m3.5-1h0m1 9.5h0m29 17.5h0m-5.5 0h0m4.5 0h0m2 0h0m-6 0h0m3.5 0h0m-5 0h0m0 0h0m8.5 0h0m2.5 38h0m27-23h0m1.5 3h0m-1.5 5h0m0.5 0h0m-2.5-5.5h0m3 2h0m-2 4h0m2-0.5h0m0-4h0m-3.5-4.5h0m0 8h0m3.5-8.5h0m-1.5 1h0m30-9.5h0m15 0.5h0m-14-0.5h0m-1 0h0m8 1h0m6.5 0h0m-7.5 0h0m-10.5 0h0m3.5-1h0m-5 0h0m13.5 1.5h0m-14-1.5h0m14-0.5h0m-13 0h0m8.5 1.5h0m2 0.5h0m7-0.5h0m112-30.5h0m1 0h0m3.5 0h0m-2.5 0h0m-10.5 0h0m0.5 0h0m43.5-4.5h0m0.5 0h0m-3 0h0m1 0h0m2 0h0m-2 0h0m28.5-56.5h0m1 2.5h0m1 2.5h0m6.5 51h0m0.5-3h0m2 0h0m2.5-2.5h0m2 0.5h0m3.5 11.5h0m0.5-12.5h0m1.5 8h0m3.5-15.5h0m2 7.5h0m1 1h0m3 1h0m2-9h0m2 19h0m1.5-17h0m1.5-1.5h0m2 8h0m2-5.5h0m3 8.5h0m2 9.5h0m2-9h0m2 2.5h0m1.5 1.5h0m1.5 30.5h0m1.5-1.5h0m2 0h0m1.5-1h0m3 1h0m2.5-2h0m1.5 0.5h0m1.5 0h0m2.5 3h0m1 1h0m2.5-4h0m1.5 4h0m2.5 0.5h0m1.5-3h0m2.5-1.5h0m1.5 0.5h0m2.5 3.5h0m1.5-3.5h0m3 2.5h0m1.5-4h0m2 3h0m2-0.5h0m1.5 1.5h0m2.5-1h0m2.5 2.5h0m1.5-5.5h0m2.5 1h0m2 2h0m0.5-3h0m2.5 1.5h0m2-1.5h0m3 3.5h0m2.5-3.5h0m1.5 3.5h0m1-4h0m2.5 3.5h0m1.5 0.5h0m3-1h0m1 0h0m2.5 2h0m1.5-5h0m2 1.5h0m1.5-1.5h0m2 1h0m3 3.5h0m1.5-3h0m3 1h0m1.5 2h0m2.5-2.5h0m1-1.5h0m2.5 4.5h0m2.5-4.5h0m1-0.5h0m3 3.5h0m1.5 1.5h0m2-0.5h0m3-0.5h0m1.5 0.5h0m1 0.5h0m3.5 0h0m0-1h0m3.5 0.5h0m1.5-4h0m2.5 1.5h0m1.5 0h0m2-0.5h0m1.5 1h0m3.5-1h0m1 0h0m2 4h0m3-3h0m1.5-1.5h0m2 4h0m1-5h0m3 5h0m1.5-4.5h0m1.5 4h0m2.5-1h0m1.5 2h0m3-1h0m1 0h0m3 1h0m1.5-2h0m1.5 2h0m3-2.5h0m2 0.5h0m1.5 0h0m2.5 0h0m1.5-2.5h0m1.5 0h0m2-1h0m3 4.5h0m1.5-2.5h0m1.5 2.5h0m2-4h0m3 0h0m1.5-0.5h0m2.5 0.5h0m0.5 5.5h0m2.5-1.5h0m3-4h0m2 2.5h0m2-1.5h0m1.5-1h0m1.5 1.5h0m3 1h0m0.5 0h0m3.5 2h0m1.5-3.5h0m1.5-0.5h0m3 3.5h0m1-0.5h0m2.5 2h0m29-3h0m1-3h0m2 1.5h0m1.5-0.5h0m3 5.5h0m1 2h0m2 1h0m2.5-2h0m2-1.5h0m2-3h0m2-0.5h0m2.5 2h0m1.5-0.5h0m1-0.5h0m2.5 2h0m2-3h0m2.5 1.5h0m3 7h0m1-10.5h0m2 4h0m2 1h0m1.5 2h0m2.5-6h0m2 7.5h0m1.5-7h0m3 1h0m1 1h0m2-1h0m1.5 6.5h0m3.5 0h0m1.5-2.5h0m1.5-1h0m3 2h0m1 2.5h0m12-14h0m-0.5 0h0m3 0h0m3 0h0m41.5 14.5h0m1.5 4h0m2.5 0h0m1-1h0m2-2.5h0m3 6h0m1.5-3h0m2.5-2h0m1-1h0m2.5-4h0m2.5 9.5h0m1-6h0m3 3.5h0m2-2.5h0m1 5.5h0m2.5-3h0m2 1.5h0m2.5-4.5h0m1.5-2h0m1.5 7.5h0m3.5-7h0m0.5 1.5h0m2-2.5h0m2 3.5h0m2.5-5h0m1.5 8.5h0m2.5-8h0m3 0h0m0.5 3.5h0m2 3.5h0m2-7.5h0m2.5 7h0m2.5-7h0m1.5 1h0m2.5 8.5h0m2-9h0m1.5 9h0m2.5-6h0m2 3h0m1.5-6h0m2.5 8.5h0m2-2.5h0m1-5h0m3-2h0m1.5 5.5h0m2-2h0m2.5 7h0m1.5-2.5h0m1.5-3.5h0m2.5 4.5h0m2 0h0m1.5 0.5h0m2-6.5h0m2.5 2.5h0m2.5 3.5h0m2-2.5h0m2 2h0m1.5-0.5h0m8.5-0.5h0m2 0h0m1 0h0m2 0h0m3 0h0m2 0h0m1.5 0h0m1.5 0h0m3 0h0m1.5 0h0m1.5 0h0m2 0h0m3 0h0m1.5 0h0m33-116.5h0m1 2h0m-2 2h0m0 2h0m0 2.5h0m-0.5 2h0m0 2h0m1 2h0m-1.5 2h0m0.5 2.5h0m-0.5 2h0m-0.5 2h0m0 2h0m-0.5 2h0m0.5 2.5h0m-1 2h0m-0.5 2h0m-1 2h0m-1 2h0m-0.5 2h0m1 2.5h0m-1 2h0m-0.5 2h0m-8-89h0m3.5 122h0m-0.5-3h0m0 1h0m0 1.5h0m0 1.5h0m0-4.5h0m1-3h0m0 3h0m-14.5 44h0m-0.5 1.5h0m0.5-2h0m0 10h0m0 2.5h0m0-12h0m0.5 6h0m-0.5 3h0m0 6.5h0m0-16h0m0 13.5h0m-0.5-11.5h0m0.5 9.5h0m-0.5-17h0m0.5 20h0m39-23.5h0m1 1.5h0m2 0h0m3-0.5h0m1.5-8h0m2 7.5h0m1.5-1.5h0m2-4.5h0m2.5 7.5h0m1-6.5h0m3 0h0m2.5 6h0m2 0.5h0m1-10.5h0m2 9h0m2.5-8h0m2 3h0m3-3.5h0m1.5 0h0m1.5 7.5h0m1.5 2h0m2.5-7h0m2-1.5h0m1.5 1.5h0m2 3.5h0m3.5-4h0m0.5-0.5h0m2 2h0m2 1h0m3 0.5h0m1-2.5h0m3 7.5h0m2-9.5h0m1.5 1h0m1.5 4.5h0m3.5-1h0m1-3.5h0m2 8h0m1.5-1.5h0m3-2h0m1-6h0m2.5 6.5h0m1.5-6.5h0m2.5 7.5h0m2.5-1h0m2-1h0m1-2.5h0m3 0h0m1.5 0h0m2.5 1.5h0m1.5-5h0m1 3h0m1 0.5h0m1.5 1.5h0m3 2h0m1.5-2h0m1.5-0.5h0m2.5 2.5h0m2.5-1h0m1.5-0.5h0m3 1.5h0m1-1.5h0m3-1h0m1.5 1h0m1 1h0m2.5-2h0m0 6.5h0m1.5-7h0m2 2h0m2.5 2h0m2 8.5h0m1.5-2.5h0m2.5-2.5h0m2 6h0m1.5-5h0m3-9h0m1.5 0h0m1.5 10.5h0m3 2.5h0m1.5-7h0m1.5 4h0m2-11h0m2 5.5h0m3 7.5h0m2-12h0m1.5 0.5h0m1.5 4h0m3-0.5h0m1.5-1.5h0m1.5 0.5h0m2.5-1h0m2.5 11h0m1-8h0m2.5 7.5h0m1.5-7.5h0m3-4.5h0m1-0.5h0m2.5 8.5h0m2.5 1.5h0m1-9.5h0m1.5 5.5h0m0.5-1.5h0m2-1h0m3 0.5h0m1.5 1h0m1.5-0.5h0m2.5-0.5h0m1.5 1h0m3-2h0m1 2.5h0m2-2h0m3 0.5h0m2 0.5h0m1.5-2h0m2.5 3h0m1.5-1.5h0m2.5-2h0m1 3.5h0m3 0.5h0m2-3.5h0m2 0.5h0m2-0.5h0m1 2h0m3-1h0m2 2h0m1.5 0h0m6 24h0m0-6.5h0m0 7.5h0m0-1h0m0-7h0m0 4h0m0-3h0m0 1h0" stroke="#ff0000" stroke-width="14.0" stroke-linecap="round" fill="none"/>
<path d="M0 0m229 1417h0m2-1.5h0m2 0.5h0m2-2h0m2 1.5h0m2.5 0h0m2-1h0m1.5-2h0m3 5.5h0m1.5-8.5h0m1.5 8h0m2-1.5h0m2 1.5h0m1.5-5.5h0m2.5 1h0m2 2h0m1.5 0.5h0m3-6h0m1 1.5h0m2 2.5h0m2.5 3h0m2-3h0m2-8h0m1 13.5h0m2.5-6.5h0m2 0.5h0m3 0.5h0m2 0.5h0m1 0.5h0m3-2h0m1.5 3h0m1.5-4.5h0m3 2.5h0m2-5.5h0m1 1h0m2.5 0.5h0m2.5-2h0m2 3.5h0m1 2h0m2-1.5h0m3-1.5h0m1 7h0m2.5-3.5h0m1.5-4.5h0m2.5 9.5h0m3-8.5h0m1 1.5h0m1.5-3h0m3 10h0m1.5-13h0m2.5 11h0m2-4h0m1-4h0m3 0.5h0m2-1h0m2.5-8h0m1.5-1.5h0m1.5-0.5h0m2 6h0m2-3h0m2.5-2h0m1 4.5h0m3-1h0m2-5h0m1.5 6h0m2.5 0.5h0m1.5 0.5h0m2.5-6h0m1 1.5h0m1.5 2.5h0m2.5-4.5h0m2 1h0m2 1h0m3 3.5h0m1-4.5h0m2 6.5h0m3 1h0m1 0.5h0m2-5h0m1.5 2h0m2.5 8h0m1.5-1.5h0m3-1.5h0m1.5 6h0m3-4h0m1.5 7.5h0m2-7h0m2.5 3.5h0m1-3h0m3 9h0m1-11.5h0m2.5 6h0m2 1h0m1.5-5h0m1.5 7h0m3-0.5h0m1-9.5h0m3.5 10.5h0m2.5-1h0m1 0.5h0m1-8.5h0m3.5 11h0m1-8h0m3-6h0m2.5 4.5h0m1.5-1h0m1 6.5h0m2.5-6h0m1.5-0.5h0m3 7h0m1 3h0m3-10h0m2 10h0m1.5-7.5h0m1.5 8.5h0m3-10.5h0m1 1.5h0m2.5 9h0m2-9h0m2 8h0m1.5-11h0m3 2h0m2 8h0m1 0h0m3-6h0m1.5-3.5h0m2.5 3h0m1 5.5h0m2 2.5h0m2-12h0m2.5 13h0m1-7h0m3.5 0h0m2 5h0m1.5-9h0m1.5 9.5h0m3-12.5h0m0.5 12h0m2.5-13h0m2.5 5.5h0m2 9h0m2.5-4.5h0m1-1h0m3-3.5h0m1.5 9.5h0m2.5-0.5h0m2 0.5h0m1-5.5h0m2 4h0m3 0h0m1 1.5h0m-0.5 7h0m3-10.5h0m2.5-1h0m2.5-2.5h0m0.5-3.5h0m3 14.5h0m0.5 1h0m2.5-3h0m2.5 1h0m2-2h0m2.5-3h0m1 1.5h0m3-1h0m1.5 7h0m2.5-13h0m2-2.5h0m1 3.5h0m3 3.5h0m2 5h0m1.5-10h0m1.5 10h0m2.5-2.5h0m2 4h0m1.5-9h0m3 9.5h0m1.5-10.5h0m1.5 5h0m3-3h0m1 3h0m2.5 2.5h0m2-7h0m2-3h0m2 2h0m2 1.5h0m1.5 11h0m2-12h0m2.5 2h0m1.5 2h0m3 4.5h0m1-8.5h0m3 7.5h0m0.5 1h0m2.5-0.5h0m2.5 2h0m2.5-6h0m2-8h0m2 12.5h0m0.5 0h0m3-7h0m2 4.5h0m2-4h0m2.5 2h0m2-1h0m1 4h0m3-11h0m1.5 7h0m1.5-9h0m2 8h0m2.5-10h0m2.5 2.5h0m1 3h0m2.5 5.5h0m2.5-5h0m1.5 0h0m2-0.5h0m2.5-4.5h0m2 0h0m0.5-2.5h0m3.5-0.5h0m2 5.5h0m1-6.5h0m2 8h0m2.5-6.5h0m1.5 3h0m2 3.5h0m2.5-6h0m2-4.5h0m1.5 0h0m1 3h0m2.5 11h0m2.5-13h0m1 1.5h0m3-2h0m1 1.5h0m2 5.5h0m3 5h0m1-1.5h0m2-9.5h0m2.5 6.5h0m2-2.5h0m2-1h0m2.5 3h0m2 1h0m1.5-2.5h0m2.5-4.5h0m2.5 12.5h0m1-5h0m2-7.5h0m2 11.5h0m2.5-5h0m1.5-2.5h0m1.5-4h0m3 12h0m1-2.5h0m2.5-6h0m2.5 5h0m1.5-4h0m2.5 9h0m2-13h0m1.5 11h0m2-5h0m1.5-9h0m2 7h0m2 2h0m2.5 0h0m2.5-1.5h0m1.5-8h0m1.5 1h0m2 3.5h0m3 0.5h0m2.5 11.5h0m0.5 0h0m2.5-7.5h0m2.5 5h0m1.5-9h0m2.5-1.5h0m1.5 7h0m1-9.5h0m3 7.5h0m1.5-7h0m3 8.5h0m2-3h0m2 3.5h0m2 6.5h0m1-5h0m2.5-3.5h0m1.5 5h0m2-4h0m2-6.5h0m2.5 6.5h0m2 0h0m1 5.5h0m2.5-13.5h0m2.5 9.5h0m-8.5 28.5h0m2.5-0.5h0m2.5 4.5h0m1-4h0m3-1h0m1.5 4h0m2.5-2.5h0m1 2h0m2.5-0.5h0m1 2h0m3.5 0.5h0m1 1.5h0m1.5-12.5h0m3 5h0m0.5-5h0m2.5 1.5h0m2.5 5.5h0m2-8h0m1 4.5h0m2-2h0m2.5-3.5h0m1.5-3h0m2 2.5h0m3-3h0m2 0.5h0m1.5 8.5h0m1-7.5h0m2.5 7h0m2-8.5h0m3 0h0m2-1.5h0m1 7h0m1.5-7h0m3 12h0m1.5-9.5h0m2 3h0m2.5 1.5h0m1.5 1h0m2.5-1.5h0m1.5-7.5h0m2.5 8.5h0m1.5 1h0m3-7.5h0m2 9h0m1.5-4h0m2.5-4h0m2 5.5h0m2-4.5h0m2 3.5h0m1-8h0m2 6h0m3 3h0m1-3h0m3 8h0m1.5-11h0m2.5 1h0m2.5 9h0m1 0h0m1.5-11h0m3.5 5h0m0.5 5h0m2.5-10h0m2 1h0m2.5-0.5h0m1 2h0m3-0.5h0m1 4h0m3 3.5h0m1.5 0h0m2.5-8h0m1.5-3.5h0m3 3h0m0 0.5h0m3.5 6.5h0m2 0.5h0m1.5-7.5h0m1.5 8.5h0m3 2h0m2-7h0m1-0.5h0m2-4h0m2 3.5h0m3 7h0m1.5-1h0m2.5-9h0m1.5-0.5h0m1.5 0h0m2.5 5h0m2 4.5h0m2-8.5h0m1 10h0m2.5-12.5h0m2 12h0m2.5-1.5h0m2.5-8.5h0m1.5 1h0m2.5-2h0m2.5 2h0m0.5 2.5h0m2 0.5h0m2.5-2.5h0m2 9h0m1.5-12h0m2 7.5h0m0 7h0m2-1h0m2 3h0m3-3h0m1.5 6.5h0m2.5 1.5h0m2.5 5h0m1.5 0h0m2-1h0m1.5-4h0m2-0.5h0m1.5-2h0m2.5 6.5h0m2.5 0h0m2-4h0m0.5-7.5h0m1.5-5h0m2.5 13h0m2.5-5h0m1 4.5h0m2-11.5h0m1.5 6h0m2.5 4h0m3-7.5h0m1 3h0m2 1h0m3-4h0m1.5-4h0m2 4h0m1.5-1h0m3 7h0m1.5-8h0m2-1.5h0m2 9.5h0m3-1.5h0m0.5-10h0m2 5.5h0m3-4h0m1.5 1h0m2.5 2.5h0m1.5 3h0m2-3.5h0m2.5 2h0m0.5-2.5h0m1-21.5h0m2 0h0m1.5 2.5h0m3-5h0m2 1.5h0m1 0.5h0m2 2.5h0m2-4h0m3 7h0m1-6.5h0m2.5 6.5h0m2-9h0m2 4h0m2.5-6.5h0m2 8h0m2.5-1h0m1-6h0m1.5 16h0m2 10h0m0.5-5h0m2.5-5.5h0m2.5 4.5h0m2.5 2.5h0m2-2.5h0m1.5-5.5h0m1.5 4.5h0m3 3h0m1.5-7.5h0m2-0.5h0m2 10.5h0m2-10h0m1.5 2h0m2 7.5h0m2.5-1.5h0m2-3.5h0m1.5-3.5h0m2 1.5h0m3-2h0m1.5-2.5h0m1.5 6h0m3-1h0m1-2.5h0m3-1h0m1.5 4.5h0m2.5-1.5h0m1-2.5h0m1.5-1.5h0m3.5-4h0m1.5-5h0m2 0h0m2 2.5h0m2-2.5h0m3-2.5h0m1.5 6.5h0m0.5-5.5h0m3.5 1h0m1.5-1.5h0m1.5-3.5h0m2.5-1.5h0m2 6h0m2-13.5h0m1.5-1.5h0m2-3h0m2-3h0m2 4h0m3 0h0m2-1h0m1.5-5h0m2.5 3h0m1 0.5h0m1.5-3h0m2.5 4h0m3-3.5h0m1 3h0m15.5-5.5h0m-0.5-0.5h0m1 0.5h0m-0.5 0h0m-0.5 0h0m1.5-1.5h0m-1-0.5h0m-18.5 13h0m0 2h0m1 2h0m0 2h0m2.5 1.5h0m0 2h0m-1 3h0m2 1h0m1.5 2h0m0.5 2h0m2 1h0m-1 3h0m0 2h0m2.5 1h0m1.5 2h0m1.5 1.5h0m-1.5 3h0m1.5-2.5h0m1.5-8.5h0m1 14.5h0m3.5-1h0m2-4h0m1.5-2h0m2 6h0m2.5-11.5h0m1 5.5h0m2-1.5h0m2-0.5h0m2 1.5h0m3 5h0m1-4.5h0m2-5.5h0m3 3h0m1.5 7.5h0m2-10h0m1.5 1h0m3 6.5h0m2-5h0m1 4h0m3.5-7h0m1 5h0m1.5-4.5h0m3-2.5h0m1.5 5h0m2.5 3.5h0m2 1h0m2-6.5h0m2 9h0m2 1.5h0m1.5-7h0m1.5-2.5h0m1.5 5.5h0m2.5-7h0m1.5 5h0m3.5-3.5h0m2 4h0m2 1.5h0m1-1h0m3 1.5h0m1-2h0m2-3h0m2 1h0m2 7.5h0m3-12.5h0m2 3h0m2-1.5h0m1 3.5h0m3.5 4h0m1.5 2h0m0.5 1h0m3.5-0.5h0m2 0h0m1.5-5.5h0m1.5-3.5h0m2 0h0m2.5 3.5h0m3-2h0m0.5-3.5h0m2 10h0m3-1.5h0m1-9h0m3 4h0m2-5h0m1.5 3.5h0m1.5-0.5h0m2.5 6.5h0m2.5-0.5h0m2-2h0m2 5h0m1.5-3.5h0m2-4.5h0m1.5 8h0m3.5-0.5h0m1-3h0m2.5 1h0m2-7.5h0m1 5.5h0m2.5-5.5h0m2-2h0m1.5-0.5h0m2 9h0m2.5 2.5h0m2-6.5h0m2.5 5h0m2-8h0m1.5 7h0m2.5-9.5h0m0 7.5h0m2 4h0m3-7.5h0m1.5 8.5h0m2.5-5h0m1.5-4.5h0m1 9h0m3 2h0m2-3.5h0m1.5-6h0m2 1.5h0m2 2.5h0m2 0.5h0m3 3h0m1-4.5h0m2-2.5h0m2.5 7h0m2 0h0m2.5 7h0m1.5-4.5h0m2 5h0m2-8.5h0m2.5-5h0m1.5-1h0m2 9h0m1.5-4h0m2.5-0.5h0m3-6.5h0m1-0.5h0m1.5 15.5h0m3-8h0m2-5h0m1.5 4h0m2 3.5h0m2 4h0m2-10.5h0m1.5-0.5h0m2 2.5h0m2-2.5h0m1-14h0m1 10.5h0m3-11.5h0m1.5-1h0m1.5 10h0m2-0.5h0m3 6h0m1 1h0m2-9h0m2.5 9.5h0m2.5-9h0m2 10h0m2-16h0m0.5 15.5h0m3-7h0m2 0.5h0m2.5 5h0m1 3h0m3-15h0m2 10.5h0m2.5-0.5h0m1.5 2h0m1.5 2.5h0m2-1h0m1.5-13.5h0m2-3.5h0m2.5 0.5h0m1.5 10h0m2-3.5h0m2.5 11.5h0m2-19.5h0m2 10.5h0m2.5-1.5h0m1 9h0m3-16.5h0m2 9h0m1.5-10.5h0m1.5 12h0m2 6h0m3.5-13.5h0m0.5 9.5h0m2.5-6h0m2.5-9h0m2 0h0m1.5 10h0m2 10h0m1.5-5.5h0m2.5-10h0m1.5 7.5h0m1.5-8h0m3.5-1.5h0m1 8.5h0m2 5.5h0m2.5-5.5h0m2-10.5h0m2 2h0m2-2h0m2 17.5h0m2.5-2h0m2.5 0h0m1-11.5h0m2 14h0m2.5-1.5h0m1.5-17h0m2 9h0m1.5-5.5h0m2 8h0m2-6.5h0m2 2.5h0m2.5-5h0m2 0h0m2 3.5h0m2-4.5h0m2 17.5h0m2-12.5h0m3 11.5h0m0.5-17.5h0m2 9.5h0m2.5-3h0m2.5-4.5h0m1 1h0m3 9h0m1-11.5h0m2.5 18h0m1.5 0h0m3-18h0m2-0.5h0m1 6h0m2 2h0m3 3.5h0m1.5 0h0m2.5-5h0m1 9.5h0m2 2h0m2-15h0m3 13.5h0m2-8.5h0m1.5 8h0m2-3.5h0m2 0h0m2-5h0m2.5-6h0m1 8.5h0m2.5 9h0m2.5-18.5h0m2 0.5h0m2 3h0m2 3.5h0m1 1h0m3-2.5h0m1 8h0m2.5-14h0m1.5 16.5h0m1.5-1.5h0m0.5-6h0m2.5-2.5h0m2.5-0.5h0m1 18.5h0m2-14h0m2-1h0m3-3h0m1.5 15h0m1.5-10.5h0m1.5 6.5h0m3-8h0m1.5 14.5h0m3 2h0m1-13.5h0m2.5 4h0m2-9h0m1.5 5h0m3 1h0m1.5 8.5h0m1-0.5h0m3.5-2h0m2-13h0m2 4h0m2 14h0m2-9h0m1.5 2.5h0m2 2h0m1.5-8.5h0m2 4h0m3.5-7h0m1.5 11.5h0m1-1h0m2.5-12h0m2 5.5h0m2-4h0m1.5 10.5h0m3 3h0m1-4.5h0m2.5-2.5h0m2.5 10.5h0m2-4.5h0m1.5 1.5h0m2 2.5h0m1.5-12h0m3 13h0m2-4.5h0m2.5 0.5h0m1-6h0m1.5-7h0m3 16.5h0m1.5-16h0m2.5 14.5h0m1-14.5h0m2.5 9h0m2.5 1h0m1-4.5h0m3-2h0m1 6.5h0m3 1.5h0m1.5-0.5h0m3 1h0m0.5-3h0m3 7h0m2-2h0m1-16h0m2 18h0m2.5-3.5h0m1.5-1.5h0m2-1.5h0m3-8.5h0m1 8.5h0m3-3h0m1-5.5h0m2 15h0m3-8h0m2.5 7.5h0m0.5-0.5h0m2.5-17.5h0m2.5 17h0m1-11.5h0m2.5-4.5h0m2.5 7.5h0m1-9h0m2.5 8.5h0m2.5-0.5h0m2 3.5h0m0.5-2.5h0m3.5-6h0m1 16h0m3-4h0m1-11h0m3 8h0m1-4h0m2.5 10h0m2.5-3.5h0m1-4h0m2 6h0m2-8h0m2-7.5h0m2.5 5.5h0m1.5 1.5h0m2.5 7h0m2-1.5h0m1.5-7.5h0m2.5 12.5h0m1.5-6h0m3-9.5h0m1.5 9.5h0m1-6h0m3-7h0m2.5 15h0m1-8.5h0m2-3h0m3.5 16h0m1.5-10.5h0m1.5 5.5h0m2-8h0m1 7.5h0m3.5-9h0m1-4.5h0m2.5 18h0m2.5-9.5h0m0.5-3.5h0m2.5 9.5h0m3-10h0m1.5-2.5h0m2 7h0m2.5-9.5h0m1 4.5h0m3-2h0m1 11.5h0m2 1h0m3 1h0m1.5-4h0m1-2h0m3-7.5h0m1 17h0m3.5-15h0m2.5-3.5h0m1.5 7.5h0m0.5-2.5h0m4 2h0m1 0h0m2-6.5h0m1.5 8h0m2.5 2h0m2.5 4.5h0m1-14h0m2.5 3h0m2.5 6.5h0m-0.5 1h0m1.5 0h0m3-1.5h0m1-1h0m2.5 5h0m2.5-2.5h0m1-4.5h0m2 4h0m2 0.5h0m2.5-1h0m1.5 1.5h0m2.5-3.5h0m6.5 33h0m-4 2.5h0m1.5 2h0m2 2h0m-1.5 2h0m3 1.5h0m-2 2.5h0m0.5 2h0m-2.5 2.5h0m1.5 1.5h0m-0.5 2.5h0m1 1.5h0m3 1.5h0m-1.5 2.5h0m-1 2.5h0m2.5 1.5h0m2 1.5h0m-2.5 2.5h0m-1 2.5h0m5 1h0m-2.5 2.5h0m4 1.5h0m-3 2.5h0m0.5 2.5h0m0 2.5h0m0.5 2h0m0.5 2h0m2.5 2h0m1 2h0m9-103h0m2 6.5h0m2 4h0m1 5h0m2 0.5h0m2.5-4.5h0m2-6.5h0m2 1.5h0m1.5-2.5h0m3-3h0m1.5 12.5h0m2-3h0m1.5-12.5h0m2.5 11.5h0m2.5 4.5h0m1-1h0m2.5-1.5h0m1.5-10.5h0m3.5 0h0m0.5 8.5h0m2.5-2.5h0m2-9h0m2.5 12h0m1-9h0m2.5 7.5h0m1.5-7h0m3 4.5h0m1-7h0m3 13.5h0m1-8h0m2.5-1.5h0m3 13h0m0.5-14h0m2.5 2h0m1.5 11.5h0m2-5.5h0m3 2h0m1.5-13.5h0m1.5 5h0m3 8h0m2-8.5h0m1 13.5h0m3-1h0m1.5-11.5h0m2.5-1h0m1.5 13.5h0m2.5-9h0m1.5 6.5h0m2.5-2h0m2 0h0m1 3h0m3.5-2.5h0m1.5-12h0m1.5 4.5h0m1.5 2h0m2.5-7.5h0m2-2h0m1.5 4h0m3 10.5h0m1.5 2h0m2.5-5.5h0m1.5-8.5h0m2 7h0m1.5-0.5h0m3 3h0m0.5-11h0m3 0.5h0m1.5 0.5h0m2 15h0m3-9h0m1-6.5h0m2 7.5h0m1.5-8.5h0m2.5 0.5h0m2.5 2.5h0m2 12.5h0m1.5-7.5h0m3.5 3h0m1.5 4.5h0m2-15h0m2 13.5h0m1.5-10h0m1.5 6.5h0m3 1.5h0m2 1.5h0m1-1h0m2.5-2h0m2.5 2.5h0m1 4.5h0m2-16.5h0m2-1h0m2-0.5h0m2.5 5.5h0m2 13h0m2-1h0m1.5-2h0m2-5.5h0m2 3h0m2.5-5h0m2 0h0m1.5-4.5h0m2-1h0m2 4h0m3-1.5h0m2 6.5h0m1-7h0m2.5 12.5h0m2.5-10.5h0m1 1h0m2 8h0m3-5.5h0m1.5-8h0m2 10.5h0m2-11h0m2 14.5h0m2-12.5h0m2 4h0m1.5-2.5h0m2.5-2.5h0m1.5 12h0m2-6.5h0m2.5-4.5h0m3 3.5h0m0.5-3h0m3 2h0m2 3.5h0m2.5-3h0m1-5.5h0m1.5 1.5h0m-1864.5 48h0" stroke="#0000ff" stroke-width="14.0" stroke-linecap="round" fill="none"/>
<path d="M0 0m238 1420h0m5.5 1h0m3-11h0m-6 4.5h0m0.5 1h0m7.5 15.5h0m-5-5h0m3-11.5h0m-0.5 5h0m-8 10.5h0m9-7.5h0m-1.5-13h0m-2-4.5h0m-3 6h0m0-2h0m9 20h0m-8-8.5h0m3.5-14.5h0m-6 25.5h0m9.5-22h0m0 20.5h0m-4-24.5h0m-7.5 18.5h0m12.5 7.5h0m-12.5-25.5h0m-0.5 16.5h0m7.5 0.5h0m5 5h0m-9-3h0m1.5 8h0m15.5 33h0m2.5-11h0m1.5 0h0m2 5.5h0m0-3h0m2.5 4.5h0m2-12h0m-1 28.5h0m2.5 0.5h0m2.5-21h0m1 21h0m2-14.5h0m2.5 16h0m2.5 3h0m1.5 0.5h0m2.5-36.5h0m0 6h0m2 0.5h0m1.5 1h0m2.5-5.5h0m1.5 11h0m0 13h0m1.5-24h0m2 4.5h0m2 2h0m2 14h0m-6.5-28.5h0m1.5 11h0m2-14.5h0m2 16.5h0m3-24.5h0m1 2h0m2.5 6h0m1.5-6h0m3 24h0m1-10h0m2.5 12h0m1.5-19h0m3-7.5h0m1.5 23h0m1.5-17h0m2 12.5h0m2 8.5h0m3-16.5h0m6.5-43.5h0m0 1h0m0 0h0m0 2.5h0m0-1h0m0-1.5h0m0 4h0m-6 32h0m-0.5 14h0m3.5 6.5h0m1.5 3.5h0m1.5 6h0m2.5 8.5h0m2.5-36h0m1.5 36h0m1-30.5h0m3.5-8h0m-1 34h0m1.5-9h0m2.5 3.5h0m-0.5-16h0m3.5-8h0m-0.5-6.5h0m2 21.5h0m0-11.5h0m1.5 25h0m0 0h0m2.5-15.5h0m-0.5-18h0m1.5 31.5h0m3-25.5h0m0.5 0h0m0.5 4h0m2-2h0m1 4h0m1.5-13h0m0 19h0m1.5 15.5h0m2.5-6.5h0m1.5-22h0m2.5 7h0m-4 23.5h0m1 1.5h0m1.5 2h0m2 1.5h0m0 2.5h0m0 2h0m2.5 1.5h0m-2 3h0m1 2h0m4 1h0m-2.5 3h0m2.5 1.5h0m0.5 2h0m-0.5 2.5h0m2.5 1h0m1.5 2h0m-2.5 3h0m3 1.5h0m-0.5 2h0m3 1.5h0m0.5 2h0m5 27h0m-0.5-2.5h0m-1.5-3h0m4-0.5h0m2.5-1h0m-2.5-3.5h0m3.5-1h0m-3.5-4h0m4.5 0h0m3-1h0m-3.5-4h0m1-1.5h0m-0.5-3h0m6.5 1h0m-2-3.5h0m-1-2.5h0m0-2.5h0m5 0h0m-2-3.5h0m3.5-0.5h0m-0.5-3h0m3.5-0.5h0m0.5-2h0m2-1.5h0m-1.5-3h0m-1.5-3h0m5.5 0.5h0m-4-4h0m3-1h0m4.5 0h0m-1-2.5h0m0-2.5h0m2.5-1h0m-1.5-3h0m1-1.5h0m-1.5-3.5h0m6.5 1.5h0m0-2.5h0m0-2.5h0m0.5 22h0m2.5-19.5h0m2 33h0m-1-12.5h0m2-31h0m0.5 10.5h0m1.5-2h0m0 29.5h0m3-33.5h0m2 18.5h0m-0.5 7.5h0m1.5 10.5h0m3.5-24h0m-1-2h0m2-10h0m2 8.5h0m1.5 15h0m2.5-13h0m0 9.5h0m2.5 12.5h0m-1.5-6.5h0m2.5-19h0m1 6.5h0m2 17h0m0-20h0m2 28h0m1.5-19h0m1.5-4h0m1 21.5h0m2-4h0m1-27.5h0m0 23h0m2.5-15h0m1-3h0m0.5 30h0m3.5-29h0m1-1h0m1.5-16h0m3 33h0m1.5 13h0m-0.5-23.5h0m2.5-18h0m0.5 39h0m1.5-9h0m-0.5-6h0m3 12h0m0-21h0m1 21h0m0-19h0m2.5-15h0m1.5 4.5h0m1 8.5h0m1.5-1.5h0m0.5-16h0m1.5 4.5h0m-5.5 7h0m1.5-4h0m2 0.5h0m0.5-31.5h0m2 6.5h0m-0.5 25h0m2-11.5h0m2-7h0m1.5-3h0m2.5 26.5h0m0.5-38h0m2 36.5h0m2 0.5h0m2-37.5h0m-1 5h0m2 0.5h0m3 36.5h0m1-37h0m3 25.5h0m1-25h0m0.5 20.5h0m3 6h0m1-26.5h0m3 34.5h0m0.5-25h0m12-8h0m0 11h0m-2-5.5h0m2 0.5h0m-1.5 6h0m-1-1h0m0.5 9.5h0m0-18h0m0 7h0m2-3.5h0m0.5-2.5h0m-1 12.5h0m-0.5 2.5h0m0-1h0m1 1.5h0m0-4.5h0m5 6h0m-0.5 0h0m2.5-0.5h0m-1 1h0m1-0.5h0m0 0h0m2 44h0m-2-5h0m4.5 2h0m0-3h0m0-3h0m3.5 0.5h0m1-1.5h0m2.5-0.5h0m0.5-2.5h0m0.5-2.5h0m4 1h0m0.5-2h0m0-3.5h0m1-2h0m4.5 2h0m-1-4h0m3 0h0m2-0.5h0m1-2h0m2.5-0.5h0m-2-5h0m5.5 2.5h0m-20.5-27.5h0m3 15.5h0m1.5-6h0m1.5-0.5h0m2-12h0m2.5 17.5h0m2.5-14h0m1 12.5h0m2.5 1.5h0m2-18h0m2 19h0m2.5-15.5h0m1.5-3.5h0m2.5 17.5h0m2-4h0m1.5-6.5h0m2.5 2h0m1.5-9.5h0m1.5 16.5h0m2 0h0m3.5 2.5h0m1-10h0m2-3h0m1.5 13h0m3-2h0m1-14h0m3 10h0m2 5h0m1 1h0m2.5-7.5h0m1.5-7h0m2-3.5h0m3 13.5h0m2-9.5h0m0.5-13.5h0m-0.5 16.5h0m2.5-10h0m-0.5-22h0m2.5 4.5h0m3 22.5h0m-1-14h0m2.5-4h0m2 0h0m1 29.5h0m2.5-12h0m-0.5-26.5h0m2 28h0m2 8.5h0m3-26.5h0m1.5 19.5h0m2-13h0m2.5-16h0m1 34.5h0m2-23h0m3 7.5h0m0.5 0h0m0.5 0.5h0m2.5-16h0m2.5 5h0m2 29h0m2 0h0m1-4.5h0m0.5-30.5h0m1.5 22.5h0m2-19.5h0m1 29h0m2 5.5h0m1.5-25.5h0m0.5 24h0m1.5-19h0m-7.5 31.5h0m1.5-6h0m3.5-5h0m2 22.5h0m0-16.5h0m2 10.5h0m1 5h0m2.5-10h0m1-7.5h0m3.5 25h0m2.5-28.5h0m0.5 20h0m1.5-12.5h0m3 15.5h0m1.5-7.5h0m2.5-7h0m0.5 4.5h0m1.5 22h0m1-27.5h0m3.5 13h0m1.5 1h0m1.5 0h0m3-15.5h0m1.5 20.5h0m2.5-16.5h0m2 18h0m2 5.5h0m1 4h0m2-30.5h0m1 10h0m2.5-3h0m0.5-11.5h0m2-0.5h0m2.5 1h0m2.5 14.5h0m-0.5-5h0m2.5 3.5h0m1.5-10h0m1.5-1h0m2.5 22h0m2.5-4.5h0m-1-11.5h0m3 17.5h0m1.5-27h0m3 3h0m0.5 28.5h0m2.5-25h0m2 30h0m2-11h0m1.5 5h0m2.5 1h0m2-31.5h0m2 6h0m0.5 16.5h0m1.5-7h0m0-14h0m2.5 30h0m1.5-1.5h0m2-28h0m1.5 32h0m0.5-25h0m1.5 4h0m2 13.5h0m3-23.5h0m2 17.5h0m-1 15h0m3-21.5h0m1-8.5h0m1 11h0m1-3.5h0m2.5-6.5h0m2 14h0m1.5 0h0m1.5-1h0m2.5 3h0m3-22h0m-1 3h0m2.5-1.5h0m2.5 13h0m-1 16h0m2.5-19.5h0m2 15.5h0m2.5-8.5h0m-1 1.5h0m2.5 12h0m1.5-6.5h0m2.5 4h0m0.5-3.5h0m1-12.5h0m2-7h0m2-5.5h0m2.5-2.5h0m0.5 28h0m2 18h0m3-4.5h0m1-9h0m2 9h0m3-16h0m1.5 12h0m2.5-9h0m1.5 2.5h0m2.5 5.5h0m1 3h0m2-7h0m2.5-4h0m1.5 7.5h0m1.5-2.5h0m2.5-4.5h0m3 14.5h0m2-10h0m2 13.5h0m1.5-13.5h0m2.5 2h0m1 4h0m2 4.5h0m3-2h0m1.5-17.5h0m1 14h0m3-1h0m-15-43h0m2.5 19h0m1.5-9h0m2 5.5h0m2.5-7h0m2 2.5h0m1-8.5h0m2.5 17h0m1.5-5.5h0m3-2.5h0m2-11.5h0m1 10.5h0m3-8h0m2-2.5h0m1 6h0m3 6h0m1.5-7.5h0m2 4.5h0m2.5-10h0m1.5 12.5h0m3-10h0m0.5 12.5h0m3-7h0m1-1.5h0m2.5-4h0m2 6.5h0m-17.5 11h0m0-12h0m1.5 6h0m1-12.5h0m2 7.5h0m0 9.5h0m2 21.5h0m0.5-17.5h0m2-8.5h0m-0.5-7h0m1.5 1h0m2 32h0m0-7h0m3-18.5h0m-0.5 29.5h0m1.5-28.5h0m3 18h0m1-12h0m0.5 21h0m2.5-34.5h0m1 6.5h0m0-12.5h0m2 3.5h0m1 12.5h0m2 24.5h0m2-4h0m-0.5-34h0m2 4.5h0m2 36h0m1.5-6h0m1-21h0m1.5 22.5h0m1.5-6h0m3-20.5h0m-0.5 11.5h0m2-10.5h0m1.5 16.5h0m3-13.5h0m-0.5-8h0m-36 54h0m-1 0.5h0m-1 2.5h0m0.5-0.5h0m1-3h0m-1 4.5h0m1-0.5h0m-1-3h0m30-57.5h0m0.5 15.5h0m3 3h0m2.5-23h0m1 17h0m2.5-2h0m2.5-14h0m1.5 4h0m1.5-1h0m3 15.5h0m2 3.5h0m1.5 0h0m3-2.5h0m1.5 2h0m1.5 2h0m2.5-21h0m2 17.5h0m2 2h0m1-12.5h0m3 3.5h0m1-7.5h0m2 6h0m3.5-5.5h0m1-4.5h0m1.5 14h0m3 6h0m2-19.5h0m2.5-1.5h0m0.5 22h0m2.5 0h0m2-23h0m2 0.5h0m2.5 23h0m1-2.5h0m3-9h0m1.5-8.5h0m3 14h0m-10.5 26h0m3.5-9h0m0.5 5.5h0m2 1.5h0m2.5-1h0m3-5h0m1.5-7h0m2 11h0m1-1h0m2-6.5h0m3 11.5h0m1.5-5.5h0m2-3h0m2 4h0m1.5-7.5h0m2.5-1h0m2 2h0m1.5 8.5h0m2.5-5.5h0m1.5 1h0m3 1.5h0m1.5 1h0m2-2h0m3-6h0m-12.5-26h0m3 12.5h0m2-9h0m1.5 4h0m2.5-10.5h0m2-3h0m1 4.5h0m2 12.5h0m2-14.5h0m2.5 13h0m2 3h0m2-20h0m2.5 19h0m2-16.5h0m1.5 9.5h0m2 5h0m2.5-20h0m1.5-4h0m2.5 27.5h0m2-21h0m1-3.5h0m2.5 1.5h0m1-0.5h0m3.5 4.5h0m1.5 3h0m2.5-1h0m1.5-10h0m2.5 5.5h0m2 7.5h0m1.5 5.5h0m1.5-11h0m2.5-8.5h0m2.5 22h0m1.5-1h0m2.5-10.5h0m1.5-8.5h0m2 14h0m-57-11.5h0m0-7h0m0-6.5h0m0 5h0m0 2h0m0-3h0m0-3.5h0m0 7.5h0m0 6h0m0-6h0m0-5.5h0m37.5 49.5h0m2.5 3.5h0m-0.5 6.5h0m-2-1.5h0m1.5-4.5h0m0.5 8h0m0.5-7h0m-2.5-6h0m1 2.5h0m0.5 6h0m0.5-5.5h0m0.5 3.5h0m1 38.5h0m0 22h0m17.5-67.5h0m1.5 1.5h0m1 2h0m0 2h0m2 1.5h0m0 2h0m2.5 1.5h0m-0.5 2h0m-0.5 2.5h0m0.5 2h0m1 2h0m3 1.5h0m-1.5 2.5h0m1 2h0m2.5 1.5h0m-3 3h0m3.5 1.5h0m-2 16h0m0 0h0m0 0h0m-26.5 27.5h0m0 2h0m0.5 2h0m0 2h0m0 2.5h0m0.5 2h0m0 2h0m0 2h0m0 2h0m0.5 2h0m0 2.5h0m0 2h0m0.5 2h0m0 2h0m0 2h0m0 2h0m0 2h0m0.5 2h0m0 2h0m0 2h0m0 2h0m0 2h0m0 2h0m0 2h0m0 2h0m0.5 2h0m0 2h0m0 2h0m0 2h0m0 37h0m-630-47h0m0.5 2.5h0m1 2h0m0.5 2.5h0m659-129h0m1.5-6.5h0m3-3.5h0m2 7.5h0m1.5-6.5h0m2.5 7h0m2-6.5h0m1 4h0m3-6.5h0m1 9.5h0m3-2h0m1.5-8h0m2 13.5h0m2-4h0m2.5-2h0m1-5.5h0m2.5-1.5h0m2 5.5h0m2.5-0.5h0m2 2h0m2 5.5h0m2-7h0m1.5-4h0m2.5 8.5h0m1.5 0.5h0m-22.5-27.5h0m1 1h0m2 0h0m3-5.5h0m1.5 7h0m3-10h0m1 4.5h0m2 5h0m2-1h0m2-2h0m1.5-2h0m2 4.5h0m3 1h0m1-3.5h0m3 0h0m1-2h0m2.5-3h0m1.5-1h0m0.5-8.5h0m2 22h0m0-17h0m2 11h0m3 4h0m0.5-27h0m3 40h0m-0.5-19h0m2.5 13.5h0m1-5.5h0m2 11h0m2.5-11h0m1.5-28h0m2 1.5h0m1.5 11h0m3.5 13.5h0m1.5-5.5h0m2.5-14h0m1-10h0m2 14h0m2-1h0m2.5 18.5h0m-16.5-3.5h0m2.5-6.5h0m1 11.5h0m3-3h0m1 8h0m4-8h0m1.5 5.5h0m1-6h0m2.5 6.5h0m1.5-12h0m2.5 10.5h0m2-8.5h0m1.5-4h0m2.5 6.5h0m1.5-2h0m2 3.5h0m3 2.5h0m1-2h0m2.5 8h0m1.5-13.5h0m2-2.5h0m3.5 8.5h0m0 6h0m3.5-13.5h0m2 15h0m2-12.5h0m1 8.5h0m-28 19.5h0m0.5 1h0m4.5-3h0m0 7.5h0m-1 2h0m-6-4.5h0m4-0.5h0m2-3h0m-5-0.5h0m1.5 0.5h0m4 0.5h0m0 5h0m-1-4h0m-4.5 4h0m9.5 30h0m9.5-28.5h0m2.5-4.5h0m2.5 3h0m0.5-18h0m3.5 12h0m1 3.5h0m2-9.5h0m3 14.5h0m1.5-3h0m1.5 1h0m2 5.5h0m2.5-16h0m1.5 14h0m3-14.5h0m1-2.5h0m2 3h0m2.5-2h0m2.5 9h0m1 3h0m3-18h0m1.5 9h0m1.5-1.5h0m3 1h0m1-0.5h0m2 2.5h0m2.5-4h0m2.5 10h0m1.5-11.5h0m3 13h0m1 3h0m2-18.5h0m2 3h0m2 8.5h0m3-3h0m1 1.5h0m1.5-2h0m2.5 8.5h0m1.5-14.5h0m3 5.5h0m1.5-8h0m2-3h0m2 10h0m1.5 4.5h0m2.5-12h0m2.5 7h0m1-3h0m3 15.5h0m1-9.5h0m2.5 7.5h0m2 0h0m2-6.5h0m2.5 0h0m1 11.5h0m2 0h0m2.5-15.5h0m2.5 13h0m1.5-21.5h0m1.5 11.5h0m2-9h0m-84.5 35.5h0m-0.5 3h0m1 0h0m-1-2h0m1 1.5h0m0 0.5h0m-1-3h0m46-2.5h0m-1 0h0m-6.5 0h0m-0.5 0h0m7 0h0m-3.5 0h0m1 0h0m-1.5 0h0m35-87h0m2.5-5h0m2.5 7.5h0m1.5-1h0m2.5-10h0m2 5.5h0m1.5-1.5h0m2.5 12.5h0m1.5-8h0m2 10.5h0m2.5-6.5h0m1 2h0m2.5-7h0m2-6.5h0m2.5-3.5h0m1 0.5h0m2.5 0.5h0m1.5 17.5h0m3-6h0m1.5-4.5h0m2-7h0m2 3h0m2 7.5h0m1.5 1h0m2 8.5h0m3-21.5h0m2 3.5h0m2 13h0m1.5-16.5h0m2 6h0m2-1h0m-33.5 29.5h0m0 1.5h0m0-2h0m0-0.5h0m0 1.5h0m0.5-0.5h0m26 5h0m0 0h0m0-1.5h0m0-2h0m0 6h0m0 2.5h0m0-9h0m0 8.5h0m0-3h0m-3.5 24.5h0m2.5 7.5h0m1.5 1h0m2-3.5h0m2-10h0m1.5 17h0m2.5-15.5h0m3 8.5h0m2-7.5h0m2 0h0m2-1h0m16-110h0m-2 2.5h0m2 1.5h0m1.5 2h0m-1 2.5h0m1.5 1.5h0m0.5 2.5h0m-0.5 2h0m-0.5 2h0m-1 2.5h0m1 2h0m2.5 1.5h0m-3.5 3h0m3.5 1.5h0m0.5 1.5h0m-0.5 2.5h0m-0.5 2h0m2 2h0m0.5 1.5h0m-2 3h0m3 1.5h0m-1 2h0m2 1.5h0m-18 67h0m0-1h0m0 9h0m0-4.5h0m0-1h0m0 6.5h0m0-5.5h0m0-4.5h0m18-3.5h0m2 7.5h0m3-20.5h0m2 13h0m-1.5-9h0m2 11.5h0m2.5-4.5h0m0 2h0m3-21.5h0m2 23h0m-0.5 11.5h0m2-9h0m-0.5-21.5h0m2.5 6.5h0m-0.5-15h0m3 38h0m0-30.5h0m2 17.5h0m2-20h0m0-1h0m2 8h0m1.5 24h0m-1-30.5h0m2.5 14h0m1 4.5h0m1.5 10.5h0m-0.5-22.5h0m3 4.5h0m1-18h0m2.5 41.5h0m2-6.5h0m0.5-17h0m1.5 11h0m1-21.5h0m1-0.5h0m1.5 21.5h0m1-23.5h0m2 28.5h0m-1 1.5h0m2-19.5h0m2 9h0m3-6.5h0m2-21h0m2.5 33.5h0m-1.5-5.5h0m3-27h0m0 9.5h0m-9-5.5h0m1.5 7h0m2.5 4h0m1.5 0.5h0m2-5.5h0m1.5-11.5h0m2 9h0m2-13h0m3 21h0m1-24h0m2.5 1.5h0m1 12h0m2.5 9h0m2-14.5h0m2 9h0m3-14h0m1 16.5h0m2-6h0m2.5 6.5h0m2.5-6h0m2-1h0m1.5 0.5h0m-13 33.5h0m1 13.5h0m3.5-11h0m1.5-5h0m2.5 14h0m2-8h0m1.5 5.5h0m2.5-16h0m1.5 5.5h0m1.5-6h0m3 17.5h0m1 1h0m2.5-16h0m2 9h0m1.5-9h0m3 3h0m1 3.5h0m3 3h0m2 8.5h0m2.5-4h0m2-2.5h0m1.5-8.5h0m1 15h0m3-9.5h0m2-0.5h0m2-1.5h0m1 9h0m2-7.5h0m3.5 6h0m-29.5 17h0m1.5 0.5h0m0.5-1h0m-1 2.5h0m-2.5-3.5h0m-0.5 4h0m0 1.5h0m-0.5-1.5h0m-1 0.5h0m5.5-2h0m18-19h0m1.5 0.5h0m2.5-4h0m2 0h0m1.5-17h0m2.5 5.5h0m1 12.5h0m3 3h0m1.5-10h0m1.5 2.5h0m3-16.5h0m1.5 5h0m1.5 6h0m2.5-10h0m2-4.5h0m3 5.5h0m1.5 22h0m2 0.5h0m1-29.5h0m2.5 17.5h0m2-14.5h0m1.5-1h0m3 12.5h0m2-2h0m1-13h0m2.5 26h0m2.5-19.5h0m-6.5 41.5h0m-3.5-40h0m2.5-11.5h0m2 9.5h0m2.5-12.5h0m1 19.5h0m2-3h0m2-4h0m2 5.5h0m2.5-16h0m2.5 4h0m0.5 13h0m3-5.5h0m2.5-14h0m2 6h0m1 6h0m3 8h0m1-12.5h0m2 0h0m3-3h0m1.5-5h0m2 21.5h0m2.5-20h0m1.5 17h0m1.5-1h0m2.5-8h0m2.5-6.5h0m1 6.5h0m1.5 1.5h0m2.5 7.5h0m2.5-18.5h0m2.5 7h0m2 5.5h0m2-3h0m1-2.5h0m2 15h0m-12 33h0m2.5-7h0m-0.5 3.5h0m2-18h0m2.5 23.5h0m2-6.5h0m1.5-3h0m3-0.5h0m1 2h0m2-17.5h0m3-2h0m1-2.5h0m2 24.5h0m2-0.5h0m2.5-22h0m2.5 26.5h0m1-23.5h0m2 22h0m0.5-25.5h0m2-1.5h0m1.5 22.5h0m2.5-8.5h0m1-7h0m2.5 23.5h0m2.5-22h0m2.5-2h0m0.5-4.5h0m-15 42.5h0m-1.5 0h0m6.5 0h0m1 0h0m-0.5 0h0m2.5 0h0m-2.5 0h0m-4.5 0h0m6.5 0h0m3-112h0m1 2h0m0.5 2h0m-1 2h0m0.5 2h0m0.5 2h0m0 2h0m0 2h0m-0.5 2h0m0.5 2h0m-0.5 2h0m0.5 2.5h0m1 2h0m0 2h0m0 2h0m0 2.5h0m0.5 2h0m4 9h0m1.5 1h0m2.5 5.5h0m1-4.5h0m2.5-1.5h0m2 0h0m2 8h0m2 3h0m2-5.5h0m2-2h0m2.5-5h0m1.5 14.5h0m2-7.5h0m3 4h0m1-3.5h0m1.5 0.5h0m2.5-5h0m1.5 0h0m3 1h0m1.5 3.5h0m2-5.5h0m1.5-1h0m2.5 3h0m2.5-4.5h0m2 10.5h0m1.5 0.5h0m2.5 1.5h0m2 0h0m2-9h0m1.5 12h0m1.5-8.5h0m2 2h0m2-1.5h0m2.5 1.5h0m2.5 6h0m1.5-9h0m2 5.5h0m2.5-7h0m1 10.5h0m2-13.5h0m2.5 1h0m1.5 5h0m3-3.5h0m1.5-2.5h0m1.5 5h0m3-6.5h0m1 13h0m2 2.5h0m3-4.5h0m2 4h0m2-0.5h0m1-13.5h0m3 11.5h0m1.5-6.5h0m1.5-1h0m2.5 9.5h0m2.5-3h0m1-2h0m2.5-3h0m1.5-4.5h0m2 8h0m3-8h0m2 2.5h0m2 0.5h0m1 6h0m3-5.5h0m0.5 1h0m3 7.5h0m1.5-3.5h0m2.5 0.5h0m1.5 5h0m3-11h0m1.5 5h0m2.5-6h0m-116 25.5h0m-3.5 4h0m0.5-5h0m2.5-6.5h0m-1 2h0m0.5-4h0m-1.5 15.5h0m1 0.5h0m1-5h0m0 0h0m0-4.5h0m-1.5-2h0m-0.5 2h0m0 7.5h0m55.5-8.5h0m8 15.5h0m5.5-13.5h0m-7.5 17.5h0m2.5-5.5h0m7.5-5h0m-15 8.5h0m7.5-9h0m0-1.5h0m-8.5 0h0m1 2h0m13 8h0m-6-17h0m-1 11h0m14.5 6.5h0m-12.5-9.5h0m8 10h0m-3 0h0m-10 1h0m12.5-9.5h0m-1.5 7.5h0m-8.5-4h0m13-10h0m-4.5 4.5h0m-8 3.5h0m-6.5 3h0m19-3h0m-14-6h0m-5.5 14.5h0m13.5-20h0m5.5 7h0m-17 7.5h0m18.5-7h0m-17.5 5.5h0m47-13h0m-0.5-0.5h0m0.5 0h0m-0.5 0h0m0.5 1h0m9.5 44.5h0m6.5 2.5h0m-1.5-4.5h0m-2-4h0m6.5 2h0m-1-3.5h0m0-3h0m0-2.5h0m3.5-0.5h0m5 1.5h0m-3.5-5.5h0m7 3h0m-6-7.5h0m2.5-1h0m6.5 2.5h0m-4-6h0m2.5-0.5h0m2.5-1.5h0m2.5 0h0m2-0.5h0m1.5-2h0m-0.5-3.5h0m-0.5-3.5h0m6 3h0m3.5 1h0m1-2.5h0m-2-5h0m-5 29h0m0 0h0m0 0h0m0 0h0m0 0h0m4.5-35h0m1 2.5h0m2.5-11h0m2 4.5h0m1.5-2h0m2.5 6h0m2 0.5h0m1.5-7h0m2 7.5h0m2.5-5h0m2 5h0m2.5-9.5h0m2 4h0m2 8h0m2-3.5h0m1 1h0m3-3h0m2 3.5h0m1-5.5h0m2.5 3.5h0m2.5 0.5h0m1-1h0m3-2h0m0.5 5.5h0m2-7h0m3 1h0m2.5 3.5h0m1.5 3h0m2.5-3.5h0m2 1h0m2-4h0m2-1h0m2-0.5h0m1-1.5h0m2.5 2h0m2 2h0m1.5 6h0m2-7.5h0m3 0.5h0m1 0h0m3 0.5h0m1 7h0m3-6h0m0.5-1h0m3.5 3h0m1-7h0m3 2.5h0m2 5h0m1-8.5h0m3 3h0m2 9h0m1.5-4.5h0m1.5-2h0m1.5 2.5h0m3-7h0m1.5-0.5h0m2 6.5h0m3-5h0m2-1.5h0m1.5 5.5h0m1.5-4h0m-48.5 19.5h0m5.5-9h0m9.5-1.5h0m-5.5 5.5h0m6.5-2.5h0m-17.5 0h0m1.5-2h0m6 17.5h0m-9-13.5h0m6-1h0m-3-4h0m10.5 14.5h0m-13-0.5h0m15-13h0m-9.5 11h0m8 6h0m-7-7h0m11-5.5h0m-12 11.5h0m-6-15h0m0.5 8h0m18 6.5h0m-15-3.5h0m-4.5-10h0m14-2h0m-5 1h0m-9.5 17h0m15-7.5h0m-2.5-3h0m-6-2.5h0m-4.5 10.5h0m35-38.5h0m6.5 0.5h0m-2.5 3h0m0 3h0m-2-7.5h0m6.5-1.5h0m-0.5 10h0m-2-9.5h0m-1.5 10h0m-6-12h0m11 8h0m-7-8h0m-3.5 3.5h0m8 8.5h0m-2.5-7.5h0m-7 0h0m6 2h0m12.5 9h0m2-21.5h0m2 15.5h0m2.5-8.5h0m1-3h0m3 10h0m1 7h0m3.5-8.5h0m1 9h0m3-15h0m1 6h0m2.5 0h0m2.5 0h0m2-4.5h0m2 10h0m15-19.5h0m0.5 12h0m2 17.5h0m2-19.5h0m0.5 21.5h0m1-17.5h0m3 11h0m1-13.5h0m2 15.5h0m2-4.5h0m2.5-13h0m1.5 30h0m0.5-0.5h0m2-22.5h0m0 13h0m1.5-0.5h0m2.5 4h0m2.5-30h0m2-1h0m1.5 22.5h0m3-10.5h0m-1.5 8.5h0m2.5 7h0m2.5-12h0m1.5 19h0m2-16.5h0m1.5-15.5h0m2 20.5h0m1-17.5h0m1.5-6h0m2 36.5h0m2.5-13.5h0m1.5 4h0m2-3.5h0m2.5-21h0m2 16.5h0m1.5 0h0m1.5-5.5h0m1-3h0m2 2.5h0m-0.5 20.5h0m1.5-12.5h0m2.5 15.5h0m1-35h0m3 35h0m2-20h0m1.5 5.5h0m2.5-16h0m1.5 15h0m2-1.5h0m3 11.5h0m0.5-8.5h0m2.5-23.5h0m0 1h0m2.5-2h0m2.5 11h0m1 13h0m2.5 9h0m-0.5 4.5h0m2-1h0m2-10h0m3.5 12.5h0m-1.5-20h0m2.5 6.5h0m2.5-3h0m1 14.5h0m0.5-34h0m2.5 1.5h0m-1 12.5h0m2 22h0m3-6h0m2-31h0m-80 50h0m-1 2.5h0m6 0h0m4 0.5h0m-1 2.5h0m-3.5 3.5h0m-1 2.5h0m8.5-1h0m-4 3.5h0m3 1.5h0m3.5 0.5h0m-1.5 3.5h0m3 1h0m-0.5 2.5h0m-1 2.5h0m65-55h0m2-16h0m2-5.5h0m2 16h0m2 3h0m1.5-22h0m2 18.5h0m2 5.5h0m2-1.5h0m3-22.5h0m1.5 12.5h0m2.5 3h0m1.5-2.5h0m1.5 12.5h0m2.5-7.5h0m2 1h0m2.5-13h0m2 5.5h0m2 3h0m1.5-9.5h0m2-8.5h0m2 9.5h0m1.5 0.5h0m2 2h0m3 1.5h0m2 5h0m1-1.5h0m2-15h0m3 7.5h0m2 7.5h0m2-15h0m1.5 19.5h0m2-12h0m2.5 4h0m2-6.5h0m1-2h0m3 11h0m1 0.5h0m2.5-17.5h0m2 10.5h0m3 3h0m0-3h0m3 4h0m2.5-4h0m-80 34h0m2 4h0m2 0h0m2.5-0.5h0m2.5-6h0m1 4.5h0m2-0.5h0m2-1h0m2.5 1.5h0m1.5-4.5h0m1.5 1.5h0m2.5 4.5h0m3 0.5h0m1-7.5h0m3 6h0m1 2.5h0m3 3h0m1.5-9h0m2.5 2h0m2 6.5h0m1-9h0m2 3h0m2-1h0m2.5-2h0m2 9h0m1-3h0m3.5-5.5h0m2 0h0m2.5 3h0m0.5 3h0m2-2h0m2.5-1.5h0m2 6.5h0m1.5-2h0m3-7h0m1-3h0m2.5 4.5h0m1.5 6.5h0m6.5-33.5h0m2.5 11.5h0m1-22h0m2.5 16.5h0m2.5-11h0m2-10h0m1-0.5h0m1.5 4.5h0m2.5-6.5h0m2 12h0m2.5-4.5h0m1.5 16h0m3-12h0m1 5h0m2 7h0m2-2.5h0m2-19h0m2.5 3.5h0m2.5-2.5h0m1.5 13.5h0m2-7.5h0m2 16h0m2-4.5h0m2-10h0m2-10.5h0m2.5 24.5h0m2 3h0m1-7.5h0m-6.5-35.5h0m-24-3h0m1.5 0h0m16 10h0m-5-11h0m0.5 7.5h0m-1.5-3.5h0m0 6.5h0m-6-12h0m0.5 6.5h0m7-6.5h0m10 14h0m-2.5-12.5h0m-7 6h0m-1.5 7.5h0m1-15h0m-5 10.5h0m4 0.5h0m-3-1h0m9-12h0m-21.5 6.5h0m23.5 10h0m-7.5-6.5h0m-262.5 117h0m0 15h0m2 21h0m3 77h0m-1 16h0m7 26h0m0 2h0m1 2h0m-0.5 2h0m0 2h0m0 2.5h0m0 2h0m1 2h0m0.5 2h0m0 2h0m-0.5 2h0m1 2h0m1 2h0m-1 2h0m0.5 2h0m1 2h0m-0.5 2.5h0m1 2h0m-1 2h0m1 2h0m0.5 2h0m0.5 2h0m-0.5 2h0m0 2h0m0 2h0m-1 2h0m1 2h0m-1.5 2h0m0.5 2h0m-0.5 2h0m1 2h0m-1.5 2h0m0.5 2h0m-1 2h0m1.5 2h0m-1.5 2h0m-0.5 2h0m1 2h0m0.5 2h0m-0.5 2h0m-0.5 2h0m0.5 2h0m0 2h0m0 2h0m-1 2h0m-15 36h0" stroke="#000000" stroke-width="14.0" stroke-linecap="round" fill="none"/>
</g>
<path d="M665.8 1870.6v-22M665.8 1203.9v22M1101.9 1870.6v-22M1101.9 1203.9v22M1538.0 1870.6v-22M1538.0 1203.9v22M1974.1 1870.6v-22M1974.1 1203.9v22M229.7 1427.2h22M2410.2 1427.2h-22M229.7 1650.5h22M2410.2 1650.5h-22" stroke="#262626" stroke-width="3.2" fill="none"/>
<rect x="229.7" y="1203.9" width="2180.5" height="666.7" fill="none" stroke="#262626" stroke-width="3.2"/>
<rect x="2115.0" y="1620.8" width="295.2" height="249.8" fill="#fff" stroke="#262626" stroke-width="2.6"/>
<circle cx="2233.5" cy="1665.5" r="6.6" fill="#f00"/>
<text x="2346.5" y="1692.1" class="lg">N</text>
<circle cx="2233.5" cy="1745.5" r="6.6" fill="#00f"/>
<text x="2346.5" y="1772.3" class="lg">E</text>
<circle cx="2233.5" cy="1824.5" r="6.6" fill="#000"/>
<text x="2346.5" y="1851.8" class="lg">U</text>
<text x="199.5" y="1228.8" class="tk" text-anchor="end">5</text>
<text x="199.5" y="1451.5" class="tk" text-anchor="end">0</text>
<text x="199.5" y="1675.3" class="tk" text-anchor="end">5</text>
<text x="199.5" y="1898.5" class="tk" text-anchor="end">10</text>
<text x="137.6" y="1679.3" class="mn">-</text>
<text x="100.7" y="1902.8" class="mn">-</text>
<text x="226.7" y="1968.9" class="tk" text-anchor="middle">0</text>
<text x="662.8" y="1968.9" class="tk" text-anchor="middle">5</text>
<text x="1100.6" y="1968.9" class="tk" text-anchor="middle">10</text>
<text x="1541.0" y="1968.9" class="tk" text-anchor="middle">15</text>
<text x="1975.0" y="1968.9" class="tk" text-anchor="middle">20</text>
<text x="2413.1" y="1968.9" class="tk" text-anchor="middle">25</text>
<defs><clipPath id="c0"><rect x="229.7" y="209.4" width="2180.5" height="674.7"/></clipPath><clipPath id="c1"><rect x="229.7" y="1202.9" width="2180.5" height="674.6999999999998"/></clipPath></defs>
<text x="709.7" y="89" class="tt">used original satellite clock correction</text>
<text x="814.3" y="182" class="tt">H=1.84m;V=3.03m(95%)</text>
<text x="321" y="1081.3" class="tt">used new satellite clock correction deducted pesudorange bias</text>
<text x="908.1" y="1175" class="tt">H=0.93m;V=1.83m(95%)</text>
<text x="1321.7" y="958.5" class="lb" text-anchor="middle">hour</text>
<text x="1311.5" y="1968.4" class="lb" text-anchor="middle">hour</text>
<text transform="translate(66.5 545.3) rotate(-90)" class="lb" text-anchor="middle">m</text>
<text transform="translate(66.5 1539) rotate(-90)" class="lb" text-anchor="middle">m</text>
</svg>
</body></html>
